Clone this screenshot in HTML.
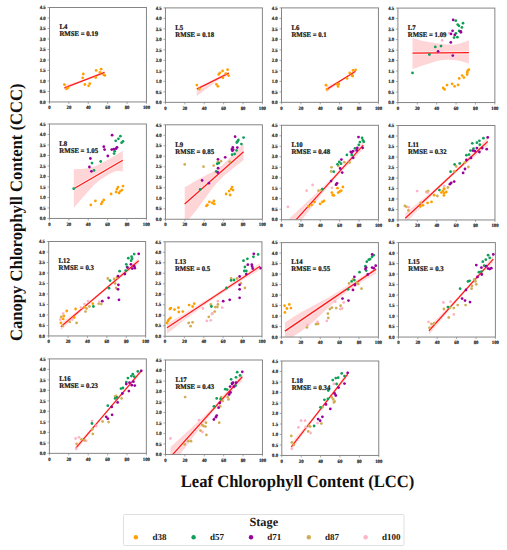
<!DOCTYPE html>
<html><head><meta charset="utf-8"><style>
html,body{margin:0;padding:0;background:#fff;}
svg{display:block;}
text{font-family:"Liberation Serif",serif;font-weight:bold;fill:#1a1a1a;text-rendering:geometricPrecision;}
.yl{font-size:5.0px;text-anchor:end;fill:#1a1a1a;stroke:#1a1a1a;stroke-width:0.18px;}
.xl{font-size:5.0px;text-anchor:middle;fill:#1a1a1a;stroke:#1a1a1a;stroke-width:0.18px;}
.tt{font-size:7.1px;fill:#111;stroke:#111;stroke-width:0.2px;}
.lt{font-size:12.3px;text-anchor:middle;}
.li{font-size:9.0px;}
.ax{fill:none;stroke:#858585;stroke-width:1;}
.tk{fill:none;stroke:#858585;stroke-width:0.7;}
.band{fill:#ffd6d8;}
.halo{stroke:#fff;stroke-opacity:0.45;stroke-width:3.2;}
.reg{stroke:#ff1a1a;stroke-width:1.3;}
.big{font-size:17.4px;fill:#111;}
</style></head><body>
<svg width="507" height="550" viewBox="0 0 507 550">
<defs><clipPath id="cL4"><rect x="49.5" y="7.5" width="96.95" height="94.45"/></clipPath><clipPath id="cL5"><rect x="165.45" y="7.9" width="96.95" height="94.45"/></clipPath><clipPath id="cL6"><rect x="281.5" y="7.9" width="96.95" height="94.45"/></clipPath><clipPath id="cL7"><rect x="397.9" y="8.1" width="96.95" height="94.45"/></clipPath><clipPath id="cL8"><rect x="49.45" y="124" width="96.95" height="94.45"/></clipPath><clipPath id="cL9"><rect x="165.45" y="124.8" width="96.95" height="94.45"/></clipPath><clipPath id="cL10"><rect x="281.5" y="125.3" width="96.95" height="94.45"/></clipPath><clipPath id="cL11"><rect x="398" y="125.5" width="96.95" height="94.45"/></clipPath><clipPath id="cL12"><rect x="48.7" y="241.5" width="96.95" height="94.45"/></clipPath><clipPath id="cL13"><rect x="165" y="241.8" width="96.95" height="94.45"/></clipPath><clipPath id="cL14"><rect x="281.45" y="242.6" width="96.95" height="94.45"/></clipPath><clipPath id="cL15"><rect x="398.45" y="242.6" width="96.95" height="94.45"/></clipPath><clipPath id="cL16"><rect x="49.4" y="358.9" width="96.95" height="94.45"/></clipPath><clipPath id="cL17"><rect x="165.5" y="360" width="96.95" height="94.45"/></clipPath><clipPath id="cL18"><rect x="281.8" y="361" width="96.95" height="94.45"/></clipPath></defs>
<g clip-path="url(#cL4)"><polygon class="band" points="64.4,85.2 65.24,84.97 66.08,84.73 66.91,84.5 67.75,84.27 68.59,84.03 69.43,83.8 70.26,83.56 71.1,83.33 71.94,83.09 72.78,82.85 73.61,82.61 74.45,82.37 75.29,82.12 76.12,81.88 76.96,81.63 77.8,81.38 78.64,81.12 79.47,80.86 80.31,80.6 81.15,80.33 81.99,80.05 82.83,79.77 83.66,79.48 84.5,79.18 85.34,78.88 86.17,78.56 87.01,78.23 87.85,77.89 88.69,77.55 89.52,77.2 90.36,76.84 91.2,76.47 92.04,76.1 92.88,75.73 93.71,75.34 94.55,74.96 95.39,74.57 96.22,74.18 97.06,73.79 97.9,73.4 98.74,73 99.57,72.61 100.41,72.21 101.25,71.81 102.09,71.41 102.92,71.01 103.76,70.6 104.6,70.2 104.6,74.6 103.76,74.84 102.92,75.08 102.09,75.32 101.25,75.56 100.41,75.8 99.57,76.04 98.74,76.29 97.9,76.53 97.06,76.78 96.22,77.03 95.39,77.28 94.55,77.54 93.71,77.8 92.88,78.06 92.04,78.32 91.2,78.59 90.36,78.87 89.52,79.15 88.69,79.44 87.85,79.74 87.01,80.04 86.17,80.36 85.34,80.68 84.5,81.02 83.66,81.36 82.83,81.71 81.99,82.07 81.15,82.44 80.31,82.81 79.47,83.19 78.64,83.57 77.8,83.96 76.96,84.35 76.12,84.74 75.29,85.14 74.45,85.53 73.61,85.93 72.78,86.34 71.94,86.74 71.1,87.14 70.26,87.55 69.43,87.95 68.59,88.36 67.75,88.77 66.91,89.17 66.08,89.58 65.24,89.99 64.4,90.4"/><line class="halo" x1="64.4" y1="87.8" x2="104.6" y2="72.4"/><line class="reg" x1="64.4" y1="87.8" x2="104.6" y2="72.4"/><circle cx="64.4" cy="84.6" r="1.38" fill="#FFA000"/><circle cx="66.5" cy="88.8" r="1.38" fill="#FFA000"/><circle cx="67.9" cy="87.8" r="1.38" fill="#FFA000"/><circle cx="83.3" cy="74" r="1.38" fill="#FFA000"/><circle cx="82.7" cy="77.8" r="1.38" fill="#FFA000"/><circle cx="84.9" cy="84.5" r="1.38" fill="#FFA000"/><circle cx="88.6" cy="85.8" r="1.38" fill="#FFA000"/><circle cx="89.8" cy="83.7" r="1.38" fill="#FFA000"/><circle cx="96.1" cy="70.4" r="1.38" fill="#FFA000"/><circle cx="95.7" cy="77.5" r="1.38" fill="#FFA000"/><circle cx="101.1" cy="69.2" r="1.38" fill="#FFA000"/><circle cx="99.9" cy="72.4" r="1.38" fill="#FFA000"/><circle cx="103.7" cy="74.8" r="1.38" fill="#FFA000"/><circle cx="104.9" cy="75.4" r="1.38" fill="#FFA000"/></g>
<rect class="ax" x="49.5" y="7.5" width="96.95" height="94.45"/>
<path class="tk" d="M47.5 101.95H49.5M47.5 91.46H49.5M47.5 80.96H49.5M47.5 70.47H49.5M47.5 59.97H49.5M47.5 49.48H49.5M47.5 38.98H49.5M47.5 28.49H49.5M47.5 17.99H49.5M47.5 7.5H49.5M49.5 101.95V103.95M68.89 101.95V103.95M88.28 101.95V103.95M107.67 101.95V103.95M127.06 101.95V103.95M146.45 101.95V103.95"/>
<text class="yl" transform="translate(45.7,103.65) scale(0.95,1)">0.0</text>
<text class="yl" transform="translate(45.7,93.16) scale(0.95,1)">0.5</text>
<text class="yl" transform="translate(45.7,82.66) scale(0.95,1)">1.0</text>
<text class="yl" transform="translate(45.7,72.17) scale(0.95,1)">1.5</text>
<text class="yl" transform="translate(45.7,61.67) scale(0.95,1)">2.0</text>
<text class="yl" transform="translate(45.7,51.18) scale(0.95,1)">2.5</text>
<text class="yl" transform="translate(45.7,40.68) scale(0.95,1)">3.0</text>
<text class="yl" transform="translate(45.7,30.19) scale(0.95,1)">3.5</text>
<text class="yl" transform="translate(45.7,19.69) scale(0.95,1)">4.0</text>
<text class="yl" transform="translate(45.7,9.2) scale(0.95,1)">4.5</text>
<text class="xl" transform="translate(49.5,109.15) scale(0.95,1)">0</text>
<text class="xl" transform="translate(68.89,109.15) scale(0.95,1)">20</text>
<text class="xl" transform="translate(88.28,109.15) scale(0.95,1)">40</text>
<text class="xl" transform="translate(107.67,109.15) scale(0.95,1)">60</text>
<text class="xl" transform="translate(127.06,109.15) scale(0.95,1)">80</text>
<text class="xl" transform="translate(146.45,109.15) scale(0.95,1)">100</text>
<text class="tt" transform="translate(59.4,29.25) scale(0.955,1)">L4</text>
<text class="tt" transform="translate(59.4,36.25) scale(0.955,1)">RMSE = 0.19</text>
<g clip-path="url(#cL5)"><polygon class="band" points="196.8,87 197.47,86.71 198.13,86.42 198.8,86.13 199.47,85.84 200.13,85.55 200.8,85.26 201.47,84.97 202.13,84.68 202.8,84.39 203.47,84.1 204.13,83.81 204.8,83.52 205.47,83.23 206.13,82.94 206.8,82.65 207.47,82.36 208.13,82.07 208.8,81.78 209.47,81.49 210.13,81.19 210.8,80.83 211.47,80.48 212.13,80.13 212.8,79.78 213.47,79.42 214.13,79.07 214.8,78.72 215.47,78.36 216.13,78.01 216.8,77.66 217.47,77.3 218.13,76.95 218.8,76.6 219.47,76.24 220.13,75.89 220.8,75.54 221.47,75.18 222.13,74.83 222.8,74.48 223.47,74.13 224.13,73.77 224.8,73.42 225.47,73.07 226.13,72.71 226.8,72.36 227.47,72.01 228.13,71.65 228.8,71.3 228.8,75.3 228.13,75.59 227.47,75.88 226.8,76.17 226.13,76.46 225.47,76.75 224.8,77.04 224.13,77.33 223.47,77.62 222.8,77.91 222.13,78.2 221.47,78.49 220.8,78.78 220.13,79.07 219.47,79.49 218.8,79.94 218.13,80.39 217.47,80.85 216.8,81.3 216.13,81.75 215.47,82.2 214.8,82.65 214.13,83.11 213.47,83.56 212.8,84.01 212.13,84.46 211.47,84.95 210.8,85.45 210.13,85.94 209.47,86.44 208.8,86.94 208.13,87.44 207.47,87.93 206.8,88.43 206.13,88.93 205.47,89.43 204.8,89.93 204.13,90.47 203.47,91.01 202.8,91.54 202.13,92.08 201.47,92.61 200.8,93.13 200.13,93.61 199.47,94.09 198.8,94.57 198.13,95.04 197.47,95.52 196.8,96"/><line class="halo" x1="196.8" y1="89.2" x2="228.8" y2="73.1"/><line class="reg" x1="196.8" y1="89.2" x2="228.8" y2="73.1"/><circle cx="196.8" cy="85.1" r="1.38" fill="#FFA000"/><circle cx="199.4" cy="89" r="1.38" fill="#FFA000"/><circle cx="216.4" cy="84.3" r="1.38" fill="#FFA000"/><circle cx="217.9" cy="86.3" r="1.38" fill="#FFA000"/><circle cx="218.7" cy="74.4" r="1.38" fill="#FFA000"/><circle cx="219.9" cy="72.8" r="1.38" fill="#FFA000"/><circle cx="222.6" cy="70.9" r="1.38" fill="#FFA000"/><circle cx="222.9" cy="77.8" r="1.38" fill="#FFA000"/><circle cx="225.8" cy="73.6" r="1.38" fill="#FFA000"/><circle cx="227.6" cy="69.7" r="1.38" fill="#FFA000"/><circle cx="228.6" cy="75.6" r="1.38" fill="#FFA000"/></g>
<rect class="ax" x="165.45" y="7.9" width="96.95" height="94.45"/>
<path class="tk" d="M163.45 102.35H165.45M163.45 91.86H165.45M163.45 81.36H165.45M163.45 70.87H165.45M163.45 60.37H165.45M163.45 49.88H165.45M163.45 39.38H165.45M163.45 28.89H165.45M163.45 18.39H165.45M163.45 7.9H165.45M165.45 102.35V104.35M184.84 102.35V104.35M204.23 102.35V104.35M223.62 102.35V104.35M243.01 102.35V104.35M262.4 102.35V104.35"/>
<text class="yl" transform="translate(161.65,104.05) scale(0.95,1)">0.0</text>
<text class="yl" transform="translate(161.65,93.56) scale(0.95,1)">0.5</text>
<text class="yl" transform="translate(161.65,83.06) scale(0.95,1)">1.0</text>
<text class="yl" transform="translate(161.65,72.57) scale(0.95,1)">1.5</text>
<text class="yl" transform="translate(161.65,62.07) scale(0.95,1)">2.0</text>
<text class="yl" transform="translate(161.65,51.58) scale(0.95,1)">2.5</text>
<text class="yl" transform="translate(161.65,41.08) scale(0.95,1)">3.0</text>
<text class="yl" transform="translate(161.65,30.59) scale(0.95,1)">3.5</text>
<text class="yl" transform="translate(161.65,20.09) scale(0.95,1)">4.0</text>
<text class="yl" transform="translate(161.65,9.6) scale(0.95,1)">4.5</text>
<text class="xl" transform="translate(165.45,109.55) scale(0.95,1)">0</text>
<text class="xl" transform="translate(184.84,109.55) scale(0.95,1)">20</text>
<text class="xl" transform="translate(204.23,109.55) scale(0.95,1)">40</text>
<text class="xl" transform="translate(223.62,109.55) scale(0.95,1)">60</text>
<text class="xl" transform="translate(243.01,109.55) scale(0.95,1)">80</text>
<text class="xl" transform="translate(262.4,109.55) scale(0.95,1)">100</text>
<text class="tt" transform="translate(175.35,29.65) scale(0.955,1)">L5</text>
<text class="tt" transform="translate(175.35,36.65) scale(0.955,1)">RMSE = 0.18</text>
<g clip-path="url(#cL6)"><polygon class="band" points="326.3,86.6 326.91,86.33 327.52,86.05 328.13,85.78 328.74,85.51 329.35,85.23 329.96,84.96 330.57,84.68 331.18,84.4 331.79,84.13 332.4,83.85 333.01,83.57 333.62,83.29 334.24,83.01 334.85,82.72 335.46,82.43 336.07,82.15 336.68,81.85 337.29,81.56 337.9,81.26 338.51,80.95 339.12,80.63 339.73,80.31 340.34,79.97 340.95,79.63 341.56,79.26 342.17,78.89 342.78,78.5 343.39,78.1 344,77.7 344.61,77.29 345.22,76.87 345.83,76.45 346.44,76.02 347.05,75.59 347.66,75.15 348.28,74.71 348.89,74.27 349.5,73.82 350.11,73.38 350.72,72.93 351.33,72.48 351.94,72.03 352.55,71.57 353.16,71.12 353.77,70.67 354.38,70.21 354.99,69.76 355.6,69.3 355.6,73.3 354.99,73.61 354.38,73.91 353.77,74.22 353.16,74.53 352.55,74.84 351.94,75.15 351.33,75.46 350.72,75.77 350.11,76.09 349.5,76.4 348.89,76.72 348.28,77.04 347.66,77.36 347.05,77.69 346.44,78.02 345.83,78.35 345.22,78.69 344.61,79.04 344,79.39 343.39,79.75 342.78,80.11 342.17,80.49 341.56,80.87 340.95,81.27 340.34,81.69 339.73,82.12 339.12,82.55 338.51,83 337.9,83.46 337.29,83.92 336.68,84.38 336.07,84.85 335.46,85.33 334.85,85.8 334.24,86.28 333.62,86.76 333.01,87.24 332.4,87.73 331.79,88.21 331.18,88.7 330.57,89.18 329.96,89.67 329.35,90.16 328.74,90.64 328.13,91.13 327.52,91.62 326.91,92.11 326.3,92.6"/><line class="halo" x1="326.3" y1="89.6" x2="355.6" y2="71.3"/><line class="reg" x1="326.3" y1="89.6" x2="355.6" y2="71.3"/><circle cx="326" cy="85.2" r="1.38" fill="#FFA000"/><circle cx="327" cy="89.3" r="1.38" fill="#FFA000"/><circle cx="337.3" cy="84.3" r="1.38" fill="#FFA000"/><circle cx="338.1" cy="86.4" r="1.38" fill="#FFA000"/><circle cx="338.8" cy="84" r="1.38" fill="#FFA000"/><circle cx="347.1" cy="78.4" r="1.38" fill="#FFA000"/><circle cx="349.7" cy="73" r="1.38" fill="#FFA000"/><circle cx="352.1" cy="75.4" r="1.38" fill="#FFA000"/><circle cx="353" cy="70.4" r="1.38" fill="#FFA000"/><circle cx="355.6" cy="69.8" r="1.38" fill="#FFA000"/><circle cx="352.7" cy="76.1" r="1.38" fill="#FFA000"/></g>
<rect class="ax" x="281.5" y="7.9" width="96.95" height="94.45"/>
<path class="tk" d="M279.5 102.35H281.5M279.5 91.86H281.5M279.5 81.36H281.5M279.5 70.87H281.5M279.5 60.37H281.5M279.5 49.88H281.5M279.5 39.38H281.5M279.5 28.89H281.5M279.5 18.39H281.5M279.5 7.9H281.5M281.5 102.35V104.35M300.89 102.35V104.35M320.28 102.35V104.35M339.67 102.35V104.35M359.06 102.35V104.35M378.45 102.35V104.35"/>
<text class="yl" transform="translate(277.7,104.05) scale(0.95,1)">0.0</text>
<text class="yl" transform="translate(277.7,93.56) scale(0.95,1)">0.5</text>
<text class="yl" transform="translate(277.7,83.06) scale(0.95,1)">1.0</text>
<text class="yl" transform="translate(277.7,72.57) scale(0.95,1)">1.5</text>
<text class="yl" transform="translate(277.7,62.07) scale(0.95,1)">2.0</text>
<text class="yl" transform="translate(277.7,51.58) scale(0.95,1)">2.5</text>
<text class="yl" transform="translate(277.7,41.08) scale(0.95,1)">3.0</text>
<text class="yl" transform="translate(277.7,30.59) scale(0.95,1)">3.5</text>
<text class="yl" transform="translate(277.7,20.09) scale(0.95,1)">4.0</text>
<text class="yl" transform="translate(277.7,9.6) scale(0.95,1)">4.5</text>
<text class="xl" transform="translate(281.5,109.55) scale(0.95,1)">0</text>
<text class="xl" transform="translate(300.89,109.55) scale(0.95,1)">20</text>
<text class="xl" transform="translate(320.28,109.55) scale(0.95,1)">40</text>
<text class="xl" transform="translate(339.67,109.55) scale(0.95,1)">60</text>
<text class="xl" transform="translate(359.06,109.55) scale(0.95,1)">80</text>
<text class="xl" transform="translate(378.45,109.55) scale(0.95,1)">100</text>
<text class="tt" transform="translate(291.4,29.65) scale(0.955,1)">L6</text>
<text class="tt" transform="translate(291.4,36.65) scale(0.955,1)">RMSE = 0.1</text>
<g clip-path="url(#cL7)"><polygon class="band" points="412.5,38.2 413.68,38.53 414.85,38.86 416.02,39.19 417.2,39.51 418.38,39.84 419.55,40.17 420.73,40.5 421.9,40.82 423.07,41.02 424.25,41.22 425.43,41.42 426.6,41.62 427.77,41.82 428.95,42.02 430.12,42.22 431.3,42.42 432.47,42.62 433.65,42.82 434.82,43.02 436,43.2 437.18,43.33 438.35,43.47 439.52,43.6 440.7,43.73 441.88,43.86 443.05,44 444.22,44.13 445.4,44.26 446.57,44.4 447.75,44.47 448.92,44.53 450.1,44.59 451.27,44.64 452.45,44.7 453.62,44.75 454.8,44.55 455.97,44.3 457.15,44.05 458.32,43.79 459.5,43.54 460.67,43.29 461.85,42.88 463.02,42.47 464.2,42.05 465.38,41.64 466.55,41.23 467.72,40.81 468.9,40.4 468.9,63.5 467.72,63.15 466.55,62.81 465.38,62.46 464.2,62.12 463.02,61.77 461.85,61.43 460.67,61.08 459.5,60.89 458.32,60.7 457.15,60.51 455.97,60.32 454.8,60.12 453.62,59.95 452.45,59.92 451.27,59.88 450.1,59.84 448.92,59.8 447.75,59.76 446.57,59.76 445.4,59.82 444.22,59.89 443.05,59.95 441.88,60.11 440.7,60.37 439.52,60.62 438.35,60.87 437.18,61.12 436,61.37 434.82,61.7 433.65,62.07 432.47,62.44 431.3,62.81 430.12,63.18 428.95,63.55 427.77,63.92 426.6,64.29 425.43,64.66 424.25,65.03 423.07,65.4 421.9,65.77 420.73,66.19 419.55,66.62 418.38,67.05 417.2,67.48 416.02,67.91 414.85,68.34 413.68,68.77 412.5,69.2"/><line class="halo" x1="412.5" y1="53.2" x2="468.9" y2="52.6"/><line class="reg" x1="412.5" y1="53.2" x2="468.9" y2="52.6"/><circle cx="453.2" cy="19.9" r="1.38" fill="#990099"/><circle cx="455.8" cy="20.7" r="1.38" fill="#0FA058"/><circle cx="463" cy="23.2" r="1.38" fill="#0FA058"/><circle cx="457.7" cy="24.6" r="1.38" fill="#0FA058"/><circle cx="458.9" cy="25.8" r="1.38" fill="#0FA058"/><circle cx="461.9" cy="27.4" r="1.38" fill="#0FA058"/><circle cx="452.6" cy="30.8" r="1.38" fill="#990099"/><circle cx="459.1" cy="30.9" r="1.38" fill="#0FA058"/><circle cx="460.7" cy="31.3" r="1.38" fill="#990099"/><circle cx="460.9" cy="32.3" r="1.38" fill="#990099"/><circle cx="455.9" cy="33.3" r="1.38" fill="#0FA058"/><circle cx="454.8" cy="35" r="1.38" fill="#990099"/><circle cx="449" cy="33.1" r="1.38" fill="#FFB3C6"/><circle cx="451" cy="33.9" r="1.38" fill="#990099"/><circle cx="454" cy="37.6" r="1.38" fill="#0FA058"/><circle cx="457.4" cy="37.2" r="1.38" fill="#0FA058"/><circle cx="442.1" cy="40.4" r="1.38" fill="#FFB3C6"/><circle cx="450.8" cy="42.4" r="1.38" fill="#990099"/><circle cx="441" cy="46.1" r="1.38" fill="#0FA058"/><circle cx="435.3" cy="46.9" r="1.38" fill="#0FA058"/><circle cx="438.1" cy="51.3" r="1.38" fill="#990099"/><circle cx="429.4" cy="54.5" r="1.38" fill="#0FA058"/><circle cx="452.8" cy="55.6" r="1.38" fill="#990099"/><circle cx="412.5" cy="72.9" r="1.38" fill="#0FA058"/><circle cx="443.2" cy="88" r="1.38" fill="#FFA000"/><circle cx="444.6" cy="89.4" r="1.38" fill="#FFA000"/><circle cx="447" cy="85.1" r="1.38" fill="#FFA000"/><circle cx="452.1" cy="83.9" r="1.38" fill="#FFA000"/><circle cx="454.6" cy="86.3" r="1.38" fill="#FFA000"/><circle cx="458.1" cy="84.9" r="1.38" fill="#FFA000"/><circle cx="459.2" cy="78.4" r="1.38" fill="#FFA000"/><circle cx="462.2" cy="75.6" r="1.38" fill="#FFA000"/><circle cx="463.9" cy="77.6" r="1.38" fill="#FFA000"/><circle cx="467.1" cy="74.5" r="1.38" fill="#FFA000"/><circle cx="467.3" cy="72.4" r="1.38" fill="#FFA000"/><circle cx="467.7" cy="70.7" r="1.38" fill="#FFA000"/><circle cx="468.9" cy="69.7" r="1.38" fill="#FFA000"/></g>
<rect class="ax" x="397.9" y="8.1" width="96.95" height="94.45"/>
<path class="tk" d="M395.9 102.55H397.9M395.9 92.06H397.9M395.9 81.56H397.9M395.9 71.07H397.9M395.9 60.57H397.9M395.9 50.08H397.9M395.9 39.58H397.9M395.9 29.09H397.9M395.9 18.59H397.9M395.9 8.1H397.9M397.9 102.55V104.55M417.29 102.55V104.55M436.68 102.55V104.55M456.07 102.55V104.55M475.46 102.55V104.55M494.85 102.55V104.55"/>
<text class="yl" transform="translate(394.1,104.25) scale(0.95,1)">0.0</text>
<text class="yl" transform="translate(394.1,93.76) scale(0.95,1)">0.5</text>
<text class="yl" transform="translate(394.1,83.26) scale(0.95,1)">1.0</text>
<text class="yl" transform="translate(394.1,72.77) scale(0.95,1)">1.5</text>
<text class="yl" transform="translate(394.1,62.27) scale(0.95,1)">2.0</text>
<text class="yl" transform="translate(394.1,51.78) scale(0.95,1)">2.5</text>
<text class="yl" transform="translate(394.1,41.28) scale(0.95,1)">3.0</text>
<text class="yl" transform="translate(394.1,30.79) scale(0.95,1)">3.5</text>
<text class="yl" transform="translate(394.1,20.29) scale(0.95,1)">4.0</text>
<text class="yl" transform="translate(394.1,9.8) scale(0.95,1)">4.5</text>
<text class="xl" transform="translate(397.9,109.75) scale(0.95,1)">0</text>
<text class="xl" transform="translate(417.29,109.75) scale(0.95,1)">20</text>
<text class="xl" transform="translate(436.68,109.75) scale(0.95,1)">40</text>
<text class="xl" transform="translate(456.07,109.75) scale(0.95,1)">60</text>
<text class="xl" transform="translate(475.46,109.75) scale(0.95,1)">80</text>
<text class="xl" transform="translate(494.85,109.75) scale(0.95,1)">100</text>
<text class="tt" transform="translate(407.8,29.85) scale(0.955,1)">L7</text>
<text class="tt" transform="translate(407.8,36.85) scale(0.955,1)">RMSE = 1.09</text>
<g clip-path="url(#cL8)"><polygon class="band" points="73.8,169.2 74.82,169.18 75.84,169.15 76.86,169.13 77.88,169.1 78.9,169.08 79.92,169.05 80.95,169.03 81.97,168.91 82.99,168.78 84.01,168.66 85.03,168.53 86.05,168.41 87.07,168.28 88.09,168.14 89.11,167.86 90.13,167.57 91.15,167.29 92.17,167 93.2,166.72 94.22,166.43 95.24,166.1 96.26,165.64 97.28,165.18 98.3,164.71 99.32,164.23 100.34,163.71 101.36,163.18 102.38,162.66 103.4,162.14 104.42,161.61 105.45,161.09 106.47,160.56 107.49,160.04 108.51,159.47 109.53,158.85 110.55,158.23 111.57,157.61 112.59,156.99 113.61,156.36 114.63,155.74 115.65,155.12 116.67,154.51 117.7,153.89 118.72,153.27 119.74,152.65 120.76,152.04 121.78,151.42 122.8,150.8 122.8,171.4 121.78,171.29 120.76,171.19 119.74,171.08 118.72,171.02 117.7,171.07 116.67,171.12 115.65,171.18 114.63,171.56 113.61,172.04 112.59,172.53 111.57,173.02 110.55,173.51 109.53,174 108.51,174.48 107.49,175.14 106.47,175.8 105.45,176.46 104.42,177.12 103.4,177.77 102.38,178.43 101.36,179.09 100.34,179.75 99.32,180.41 98.3,181.3 97.28,182.2 96.26,183.1 95.24,184 94.22,185.02 93.2,186.08 92.17,187.13 91.15,188.19 90.13,189.29 89.11,190.44 88.09,191.6 87.07,192.75 86.05,193.91 85.03,195.06 84.01,196.21 82.99,197.37 81.97,198.52 80.95,199.68 79.92,200.84 78.9,202 77.88,203.16 76.86,204.32 75.84,205.48 74.82,206.64 73.8,207.8"/><line class="halo" x1="73.8" y1="188.7" x2="122.8" y2="160.3"/><line class="reg" x1="73.8" y1="188.7" x2="122.8" y2="160.3"/><circle cx="73.7" cy="188.7" r="1.38" fill="#0FA058"/><circle cx="94" cy="170.4" r="1.38" fill="#0FA058"/><circle cx="92" cy="163.1" r="1.38" fill="#0FA058"/><circle cx="100.7" cy="161.5" r="1.38" fill="#0FA058"/><circle cx="114.1" cy="153.6" r="1.38" fill="#0FA058"/><circle cx="114.7" cy="151.2" r="1.38" fill="#0FA058"/><circle cx="115.7" cy="140.8" r="1.38" fill="#0FA058"/><circle cx="118.4" cy="138.8" r="1.38" fill="#0FA058"/><circle cx="120.4" cy="136.2" r="1.38" fill="#0FA058"/><circle cx="121.6" cy="142.7" r="1.38" fill="#0FA058"/><circle cx="123" cy="141.4" r="1.38" fill="#0FA058"/><circle cx="90.4" cy="158.5" r="1.38" fill="#990099"/><circle cx="89.4" cy="167" r="1.38" fill="#990099"/><circle cx="91.4" cy="171.3" r="1.38" fill="#990099"/><circle cx="103.8" cy="146.7" r="1.38" fill="#990099"/><circle cx="104.6" cy="149.6" r="1.38" fill="#990099"/><circle cx="107.8" cy="156" r="1.38" fill="#990099"/><circle cx="112.1" cy="135.2" r="1.38" fill="#990099"/><circle cx="111.7" cy="149.6" r="1.38" fill="#990099"/><circle cx="113.7" cy="149.2" r="1.38" fill="#990099"/><circle cx="117" cy="147.3" r="1.38" fill="#990099"/><circle cx="116.1" cy="148.7" r="1.38" fill="#990099"/><circle cx="90.8" cy="204.9" r="1.38" fill="#FFA000"/><circle cx="95.4" cy="200.9" r="1.38" fill="#FFA000"/><circle cx="101.3" cy="203.9" r="1.38" fill="#FFA000"/><circle cx="102.3" cy="201.9" r="1.38" fill="#FFA000"/><circle cx="103.8" cy="199.9" r="1.38" fill="#FFA000"/><circle cx="111.1" cy="194" r="1.38" fill="#FFA000"/><circle cx="116.1" cy="192" r="1.38" fill="#FFA000"/><circle cx="117" cy="189.1" r="1.38" fill="#FFA000"/><circle cx="118" cy="187.1" r="1.38" fill="#FFA000"/><circle cx="119" cy="193" r="1.38" fill="#FFA000"/><circle cx="122" cy="190.1" r="1.38" fill="#FFA000"/><circle cx="123" cy="186.1" r="1.38" fill="#FFA000"/><circle cx="120.4" cy="191.1" r="1.38" fill="#FFA000"/></g>
<rect class="ax" x="49.45" y="124" width="96.95" height="94.45"/>
<path class="tk" d="M47.45 218.45H49.45M47.45 207.96H49.45M47.45 197.46H49.45M47.45 186.97H49.45M47.45 176.47H49.45M47.45 165.98H49.45M47.45 155.48H49.45M47.45 144.99H49.45M47.45 134.49H49.45M47.45 124H49.45M49.45 218.45V220.45M68.84 218.45V220.45M88.23 218.45V220.45M107.62 218.45V220.45M127.01 218.45V220.45M146.4 218.45V220.45"/>
<text class="yl" transform="translate(45.65,220.15) scale(0.95,1)">0.0</text>
<text class="yl" transform="translate(45.65,209.66) scale(0.95,1)">0.5</text>
<text class="yl" transform="translate(45.65,199.16) scale(0.95,1)">1.0</text>
<text class="yl" transform="translate(45.65,188.67) scale(0.95,1)">1.5</text>
<text class="yl" transform="translate(45.65,178.17) scale(0.95,1)">2.0</text>
<text class="yl" transform="translate(45.65,167.68) scale(0.95,1)">2.5</text>
<text class="yl" transform="translate(45.65,157.18) scale(0.95,1)">3.0</text>
<text class="yl" transform="translate(45.65,146.69) scale(0.95,1)">3.5</text>
<text class="yl" transform="translate(45.65,136.19) scale(0.95,1)">4.0</text>
<text class="yl" transform="translate(45.65,125.7) scale(0.95,1)">4.5</text>
<text class="xl" transform="translate(49.45,225.65) scale(0.95,1)">0</text>
<text class="xl" transform="translate(68.84,225.65) scale(0.95,1)">20</text>
<text class="xl" transform="translate(88.23,225.65) scale(0.95,1)">40</text>
<text class="xl" transform="translate(107.62,225.65) scale(0.95,1)">60</text>
<text class="xl" transform="translate(127.01,225.65) scale(0.95,1)">80</text>
<text class="xl" transform="translate(146.4,225.65) scale(0.95,1)">100</text>
<text class="tt" transform="translate(59.35,145.75) scale(0.955,1)">L8</text>
<text class="tt" transform="translate(59.35,152.75) scale(0.955,1)">RMSE = 1.05</text>
<g clip-path="url(#cL9)"><polygon class="band" points="184.7,187.3 185.93,186.59 187.15,185.88 188.38,185.17 189.61,184.45 190.84,183.74 192.06,183.03 193.29,182.31 194.52,181.59 195.74,180.87 196.97,180.15 198.2,179.43 199.42,178.77 200.65,178.11 201.88,177.46 203.11,176.81 204.33,176.16 205.56,175.51 206.79,174.86 208.01,174.26 209.24,173.66 210.47,173.06 211.7,172.46 212.92,171.74 214.15,170.98 215.38,170.22 216.6,169.46 217.83,168.7 219.06,167.76 220.29,166.7 221.51,165.65 222.74,164.59 223.97,163.54 225.19,162.45 226.42,161.23 227.65,160.01 228.88,158.79 230.1,157.57 231.33,156.35 232.56,155.07 233.78,153.79 235.01,152.5 236.24,151.22 237.46,149.93 238.69,148.64 239.92,147.36 241.15,146.07 242.37,144.79 243.6,143.5 243.6,160.1 242.37,161.05 241.15,162 239.92,162.95 238.69,163.89 237.46,164.84 236.24,165.79 235.01,166.74 233.78,167.69 232.56,168.64 231.33,169.6 230.1,170.62 228.88,171.63 227.65,172.65 226.42,173.67 225.19,174.69 223.97,175.86 222.74,177.05 221.51,178.25 220.29,179.45 219.06,180.64 217.83,181.88 216.6,183.37 215.38,184.85 214.15,186.34 212.92,187.83 211.7,189.33 210.47,190.98 209.24,192.63 208.01,194.27 206.79,195.92 205.56,197.63 204.33,199.36 203.11,201.08 201.88,202.81 200.65,204.54 199.42,206.27 198.2,207.96 196.97,209.46 195.74,210.96 194.52,212.46 193.29,213.96 192.06,215.46 190.84,216.91 189.61,218.35 188.38,219.79 187.15,221.23 185.93,222.66 184.7,224.1"/><line class="halo" x1="184.7" y1="204.1" x2="243.6" y2="151.7"/><line class="reg" x1="184.7" y1="204.1" x2="243.6" y2="151.7"/><circle cx="184.7" cy="164.4" r="1.38" fill="#D1AE55"/><circle cx="203.5" cy="166.7" r="1.38" fill="#D1AE55"/><circle cx="213.7" cy="165.6" r="1.38" fill="#D1AE55"/><circle cx="217.8" cy="162" r="1.38" fill="#D1AE55"/><circle cx="221" cy="161.2" r="1.38" fill="#D1AE55"/><circle cx="229.7" cy="162" r="1.38" fill="#D1AE55"/><circle cx="235.1" cy="136.7" r="1.38" fill="#990099"/><circle cx="243.6" cy="137.6" r="1.38" fill="#0FA058"/><circle cx="238.4" cy="140" r="1.38" fill="#0FA058"/><circle cx="237.5" cy="141.4" r="1.38" fill="#0FA058"/><circle cx="236.8" cy="142.5" r="1.38" fill="#0FA058"/><circle cx="241.4" cy="144.1" r="1.38" fill="#0FA058"/><circle cx="232.8" cy="147.4" r="1.38" fill="#990099"/><circle cx="237.3" cy="147.6" r="1.38" fill="#990099"/><circle cx="231.9" cy="149.5" r="1.38" fill="#990099"/><circle cx="232.4" cy="150.8" r="1.38" fill="#990099"/><circle cx="233.2" cy="149.7" r="1.38" fill="#990099"/><circle cx="236.5" cy="150.4" r="1.38" fill="#0FA058"/><circle cx="234.6" cy="153.9" r="1.38" fill="#0FA058"/><circle cx="232.1" cy="154.7" r="1.38" fill="#0FA058"/><circle cx="225.2" cy="157.3" r="1.38" fill="#990099"/><circle cx="218" cy="159.3" r="1.38" fill="#990099"/><circle cx="217.2" cy="163.8" r="1.38" fill="#0FA058"/><circle cx="218.9" cy="163.1" r="1.38" fill="#0FA058"/><circle cx="218.1" cy="168.2" r="1.38" fill="#990099"/><circle cx="216.2" cy="171.4" r="1.38" fill="#0FA058"/><circle cx="217.8" cy="172.5" r="1.38" fill="#990099"/><circle cx="202.1" cy="180.4" r="1.38" fill="#990099"/><circle cx="208.9" cy="183.2" r="1.38" fill="#990099"/><circle cx="200.1" cy="189.5" r="1.38" fill="#0FA058"/><circle cx="206.4" cy="205.9" r="1.38" fill="#FFA000"/><circle cx="207.4" cy="204.9" r="1.38" fill="#FFA000"/><circle cx="209.4" cy="201.9" r="1.38" fill="#FFA000"/><circle cx="212.3" cy="202.9" r="1.38" fill="#FFA000"/><circle cx="213.9" cy="200.9" r="1.38" fill="#FFA000"/><circle cx="214.3" cy="203.9" r="1.38" fill="#FFA000"/><circle cx="226.1" cy="194" r="1.38" fill="#FFA000"/><circle cx="229.1" cy="191.1" r="1.38" fill="#FFA000"/><circle cx="230.1" cy="195" r="1.38" fill="#FFA000"/><circle cx="231.1" cy="189.1" r="1.38" fill="#FFA000"/><circle cx="232.1" cy="187.1" r="1.38" fill="#FFA000"/><circle cx="233" cy="190.1" r="1.38" fill="#FFA000"/></g>
<rect class="ax" x="165.45" y="124.8" width="96.95" height="94.45"/>
<path class="tk" d="M163.45 219.25H165.45M163.45 208.76H165.45M163.45 198.26H165.45M163.45 187.77H165.45M163.45 177.27H165.45M163.45 166.78H165.45M163.45 156.28H165.45M163.45 145.79H165.45M163.45 135.29H165.45M163.45 124.8H165.45M165.45 219.25V221.25M184.84 219.25V221.25M204.23 219.25V221.25M223.62 219.25V221.25M243.01 219.25V221.25M262.4 219.25V221.25"/>
<text class="yl" transform="translate(161.65,220.95) scale(0.95,1)">0.0</text>
<text class="yl" transform="translate(161.65,210.46) scale(0.95,1)">0.5</text>
<text class="yl" transform="translate(161.65,199.96) scale(0.95,1)">1.0</text>
<text class="yl" transform="translate(161.65,189.47) scale(0.95,1)">1.5</text>
<text class="yl" transform="translate(161.65,178.97) scale(0.95,1)">2.0</text>
<text class="yl" transform="translate(161.65,168.48) scale(0.95,1)">2.5</text>
<text class="yl" transform="translate(161.65,157.98) scale(0.95,1)">3.0</text>
<text class="yl" transform="translate(161.65,147.49) scale(0.95,1)">3.5</text>
<text class="yl" transform="translate(161.65,136.99) scale(0.95,1)">4.0</text>
<text class="yl" transform="translate(161.65,126.5) scale(0.95,1)">4.5</text>
<text class="xl" transform="translate(165.45,226.45) scale(0.95,1)">0</text>
<text class="xl" transform="translate(184.84,226.45) scale(0.95,1)">20</text>
<text class="xl" transform="translate(204.23,226.45) scale(0.95,1)">40</text>
<text class="xl" transform="translate(223.62,226.45) scale(0.95,1)">60</text>
<text class="xl" transform="translate(243.01,226.45) scale(0.95,1)">80</text>
<text class="xl" transform="translate(262.4,226.45) scale(0.95,1)">100</text>
<text class="tt" transform="translate(175.35,146.55) scale(0.955,1)">L9</text>
<text class="tt" transform="translate(175.35,153.55) scale(0.955,1)">RMSE = 0.85</text>
<g clip-path="url(#cL10)"><polygon class="band" points="288,219.7 289.57,218.24 291.14,216.78 292.71,215.32 294.27,213.86 295.84,212.4 297.41,210.93 298.98,209.47 300.55,208 302.12,206.54 303.69,205.07 305.26,203.6 306.82,202.12 308.39,200.65 309.96,199.17 311.53,197.69 313.1,196.21 314.67,194.72 316.24,193.23 317.81,191.73 319.38,190.23 320.94,188.71 322.51,187.19 324.08,185.65 325.65,184.1 327.22,182.53 328.79,180.93 330.36,179.31 331.93,177.66 333.49,175.97 335.06,174.25 336.63,172.5 338.2,170.73 339.77,168.95 341.34,167.16 342.91,165.35 344.48,163.53 346.04,161.7 347.61,159.86 349.18,158.01 350.75,156.15 352.32,154.29 353.89,152.42 355.46,150.54 357.03,148.66 358.59,146.78 360.16,144.89 361.73,142.99 363.3,141.1 363.3,149.1 361.73,150.69 360.16,152.28 358.59,153.87 357.03,155.47 355.46,157.07 353.89,158.68 352.32,160.29 350.75,161.91 349.18,163.54 347.61,165.17 346.04,166.82 344.48,168.47 342.91,170.13 341.34,171.81 339.77,173.5 338.2,175.2 336.63,176.92 335.06,178.65 333.49,180.41 331.93,182.21 330.36,184.04 328.79,185.9 327.22,187.79 325.65,189.7 324.08,191.63 322.51,193.58 320.94,195.54 319.38,197.51 317.81,199.49 316.24,201.47 314.67,203.46 313.1,205.46 311.53,207.46 309.96,209.46 308.39,211.47 306.82,213.48 305.26,215.49 303.69,217.5 302.12,219.51 300.55,221.53 298.98,223.55 297.41,225.57 295.84,227.59 294.27,229.61 292.71,231.63 291.14,233.65 289.57,235.68 288,237.7"/><line class="halo" x1="288" y1="228.7" x2="363.3" y2="145.1"/><line class="reg" x1="288" y1="228.7" x2="363.3" y2="145.1"/><circle cx="287.9" cy="206.8" r="1.38" fill="#FFB3C6"/><circle cx="306.6" cy="190.7" r="1.38" fill="#FFB3C6"/><circle cx="312.6" cy="185" r="1.38" fill="#FFB3C6"/><circle cx="331.9" cy="187.8" r="1.38" fill="#FFB3C6"/><circle cx="308.6" cy="206.4" r="1.38" fill="#FFA000"/><circle cx="311.6" cy="204.9" r="1.38" fill="#FFA000"/><circle cx="314.5" cy="201.9" r="1.38" fill="#FFA000"/><circle cx="320.1" cy="203.9" r="1.38" fill="#FFA000"/><circle cx="322.4" cy="201.9" r="1.38" fill="#FFA000"/><circle cx="324" cy="200.9" r="1.38" fill="#FFA000"/><circle cx="331.9" cy="192.6" r="1.38" fill="#FFA000"/><circle cx="332.7" cy="195" r="1.38" fill="#FFA000"/><circle cx="333.9" cy="195.4" r="1.38" fill="#FFA000"/><circle cx="337.5" cy="188.2" r="1.38" fill="#FFA000"/><circle cx="338.2" cy="192.6" r="1.38" fill="#FFA000"/><circle cx="339.8" cy="191.5" r="1.38" fill="#FFA000"/><circle cx="341.2" cy="190.7" r="1.38" fill="#FFA000"/><circle cx="342.9" cy="187" r="1.38" fill="#FFA000"/><circle cx="318.5" cy="190.7" r="1.38" fill="#D1AE55"/><circle cx="321.4" cy="190.1" r="1.38" fill="#D1AE55"/><circle cx="331.5" cy="167.3" r="1.38" fill="#D1AE55"/><circle cx="331.1" cy="171.4" r="1.38" fill="#D1AE55"/><circle cx="338.4" cy="166.1" r="1.38" fill="#D1AE55"/><circle cx="344.3" cy="162.2" r="1.38" fill="#D1AE55"/><circle cx="349.6" cy="162.5" r="1.38" fill="#D1AE55"/><circle cx="322.4" cy="189.1" r="1.38" fill="#0FA058"/><circle cx="333.7" cy="171.7" r="1.38" fill="#0FA058"/><circle cx="337.5" cy="164.3" r="1.38" fill="#0FA058"/><circle cx="341" cy="163.7" r="1.38" fill="#0FA058"/><circle cx="339.3" cy="162" r="1.38" fill="#0FA058"/><circle cx="346.9" cy="154.9" r="1.38" fill="#0FA058"/><circle cx="351.7" cy="154.9" r="1.38" fill="#0FA058"/><circle cx="355" cy="148.3" r="1.38" fill="#0FA058"/><circle cx="358.8" cy="144.8" r="1.38" fill="#0FA058"/><circle cx="359.9" cy="142.1" r="1.38" fill="#0FA058"/><circle cx="363.8" cy="141.8" r="1.38" fill="#0FA058"/><circle cx="363" cy="140.4" r="1.38" fill="#0FA058"/><circle cx="362.1" cy="138" r="1.38" fill="#0FA058"/><circle cx="331.1" cy="181.1" r="1.38" fill="#990099"/><circle cx="337" cy="183.3" r="1.38" fill="#990099"/><circle cx="336" cy="184.7" r="1.38" fill="#990099"/><circle cx="340.2" cy="168.5" r="1.38" fill="#990099"/><circle cx="342.2" cy="172.6" r="1.38" fill="#990099"/><circle cx="341.4" cy="159.6" r="1.38" fill="#990099"/><circle cx="353.2" cy="157.8" r="1.38" fill="#990099"/><circle cx="350.8" cy="151.9" r="1.38" fill="#990099"/><circle cx="351.7" cy="152.5" r="1.38" fill="#990099"/><circle cx="353.2" cy="151.1" r="1.38" fill="#990099"/><circle cx="356.7" cy="150.4" r="1.38" fill="#990099"/><circle cx="357.3" cy="148" r="1.38" fill="#990099"/><circle cx="362.7" cy="147.8" r="1.38" fill="#990099"/><circle cx="358.5" cy="137.1" r="1.38" fill="#990099"/></g>
<rect class="ax" x="281.5" y="125.3" width="96.95" height="94.45"/>
<path class="tk" d="M279.5 219.75H281.5M279.5 209.26H281.5M279.5 198.76H281.5M279.5 188.27H281.5M279.5 177.77H281.5M279.5 167.28H281.5M279.5 156.78H281.5M279.5 146.29H281.5M279.5 135.79H281.5M279.5 125.3H281.5M281.5 219.75V221.75M300.89 219.75V221.75M320.28 219.75V221.75M339.67 219.75V221.75M359.06 219.75V221.75M378.45 219.75V221.75"/>
<text class="yl" transform="translate(277.7,221.45) scale(0.95,1)">0.0</text>
<text class="yl" transform="translate(277.7,210.96) scale(0.95,1)">0.5</text>
<text class="yl" transform="translate(277.7,200.46) scale(0.95,1)">1.0</text>
<text class="yl" transform="translate(277.7,189.97) scale(0.95,1)">1.5</text>
<text class="yl" transform="translate(277.7,179.47) scale(0.95,1)">2.0</text>
<text class="yl" transform="translate(277.7,168.98) scale(0.95,1)">2.5</text>
<text class="yl" transform="translate(277.7,158.48) scale(0.95,1)">3.0</text>
<text class="yl" transform="translate(277.7,147.99) scale(0.95,1)">3.5</text>
<text class="yl" transform="translate(277.7,137.49) scale(0.95,1)">4.0</text>
<text class="yl" transform="translate(277.7,127) scale(0.95,1)">4.5</text>
<text class="xl" transform="translate(281.5,226.95) scale(0.95,1)">0</text>
<text class="xl" transform="translate(300.89,226.95) scale(0.95,1)">20</text>
<text class="xl" transform="translate(320.28,226.95) scale(0.95,1)">40</text>
<text class="xl" transform="translate(339.67,226.95) scale(0.95,1)">60</text>
<text class="xl" transform="translate(359.06,226.95) scale(0.95,1)">80</text>
<text class="xl" transform="translate(378.45,226.95) scale(0.95,1)">100</text>
<text class="tt" transform="translate(291.4,147.05) scale(0.955,1)">L10</text>
<text class="tt" transform="translate(291.4,154.05) scale(0.955,1)">RMSE = 0.48</text>
<g clip-path="url(#cL11)"><polygon class="band" points="405.3,213.3 407.02,211.89 408.73,210.49 410.45,209.08 412.17,207.67 413.88,206.26 415.6,204.85 417.32,203.44 419.03,202.02 420.75,200.6 422.47,199.18 424.18,197.76 425.9,196.33 427.62,194.9 429.33,193.46 431.05,192.02 432.77,190.57 434.48,189.1 436.2,187.63 437.92,186.14 439.63,184.63 441.35,183.09 443.07,181.54 444.78,179.95 446.5,178.34 448.22,176.72 449.93,175.09 451.65,173.44 453.37,171.77 455.08,170.1 456.8,168.42 458.52,166.73 460.23,165.03 461.95,163.33 463.67,161.62 465.38,159.91 467.1,158.19 468.82,156.47 470.53,154.74 472.25,153.02 473.97,151.29 475.68,149.56 477.4,147.82 479.12,146.09 480.83,144.35 482.55,142.62 484.27,140.88 485.98,139.14 487.7,137.4 487.7,145.4 485.98,146.86 484.27,148.33 482.55,149.8 480.83,151.26 479.12,152.73 477.4,154.2 475.68,155.67 473.97,157.15 472.25,158.62 470.53,160.1 468.82,161.58 467.1,163.06 465.38,164.55 463.67,166.04 461.95,167.53 460.23,169.03 458.52,170.54 456.8,172.05 455.08,173.58 453.37,175.11 451.65,176.65 449.93,178.21 448.22,179.77 446.5,181.36 444.78,182.95 443.07,184.57 441.35,186.22 439.63,187.89 437.92,189.59 436.2,191.3 434.48,193.03 432.77,194.77 431.05,196.52 429.33,198.28 427.62,200.04 425.9,201.82 424.18,203.59 422.47,205.37 420.75,207.16 419.03,208.94 417.32,210.73 415.6,212.53 413.88,214.32 412.17,216.11 410.45,217.91 408.73,219.7 407.02,221.5 405.3,223.3"/><line class="halo" x1="405.3" y1="218.3" x2="487.7" y2="141.4"/><line class="reg" x1="405.3" y1="218.3" x2="487.7" y2="141.4"/><circle cx="404.9" cy="205.9" r="1.38" fill="#D1AE55"/><circle cx="406.5" cy="206.8" r="1.38" fill="#D1AE55"/><circle cx="408.4" cy="210.4" r="1.38" fill="#D1AE55"/><circle cx="420.7" cy="202.9" r="1.38" fill="#D1AE55"/><circle cx="426.6" cy="192" r="1.38" fill="#D1AE55"/><circle cx="428.2" cy="191.1" r="1.38" fill="#D1AE55"/><circle cx="434.2" cy="195.2" r="1.38" fill="#FFA000"/><circle cx="437.4" cy="196" r="1.38" fill="#D1AE55"/><circle cx="444.3" cy="189.1" r="1.38" fill="#D1AE55"/><circle cx="447.9" cy="187.5" r="1.38" fill="#D1AE55"/><circle cx="454.2" cy="171.3" r="1.38" fill="#D1AE55"/><circle cx="456.2" cy="166.4" r="1.38" fill="#D1AE55"/><circle cx="465" cy="162.5" r="1.38" fill="#D1AE55"/><circle cx="468.4" cy="167" r="1.38" fill="#D1AE55"/><circle cx="417.1" cy="191.1" r="1.38" fill="#FFB3C6"/><circle cx="427.6" cy="192.6" r="1.38" fill="#FFB3C6"/><circle cx="444.3" cy="186.1" r="1.38" fill="#FFB3C6"/><circle cx="408.7" cy="207.3" r="1.38" fill="#FFB3C6"/><circle cx="420.3" cy="206.4" r="1.38" fill="#FFA000"/><circle cx="423" cy="205.3" r="1.38" fill="#FFA000"/><circle cx="427.6" cy="202.9" r="1.38" fill="#FFA000"/><circle cx="431.5" cy="201.9" r="1.38" fill="#FFA000"/><circle cx="441.4" cy="192.6" r="1.38" fill="#FFA000"/><circle cx="442.8" cy="191.1" r="1.38" fill="#FFA000"/><circle cx="443.9" cy="188.7" r="1.38" fill="#FFA000"/><circle cx="444.3" cy="193" r="1.38" fill="#FFA000"/><circle cx="443.9" cy="195.4" r="1.38" fill="#FFA000"/><circle cx="446.3" cy="192" r="1.38" fill="#FFA000"/><circle cx="439.4" cy="190.1" r="1.38" fill="#0FA058"/><circle cx="450.6" cy="171.7" r="1.38" fill="#0FA058"/><circle cx="454.6" cy="164.4" r="1.38" fill="#0FA058"/><circle cx="459.7" cy="163.4" r="1.38" fill="#0FA058"/><circle cx="466.4" cy="155.2" r="1.38" fill="#0FA058"/><circle cx="469" cy="154.6" r="1.38" fill="#0FA058"/><circle cx="470.4" cy="150.6" r="1.38" fill="#0FA058"/><circle cx="472.3" cy="143.3" r="1.38" fill="#0FA058"/><circle cx="473.5" cy="148.7" r="1.38" fill="#0FA058"/><circle cx="476.9" cy="142.7" r="1.38" fill="#0FA058"/><circle cx="479.4" cy="140.8" r="1.38" fill="#0FA058"/><circle cx="479.8" cy="144.7" r="1.38" fill="#0FA058"/><circle cx="483.4" cy="138.2" r="1.38" fill="#0FA058"/><circle cx="449.9" cy="184.2" r="1.38" fill="#990099"/><circle cx="451.2" cy="182.8" r="1.38" fill="#990099"/><circle cx="454.2" cy="181.6" r="1.38" fill="#990099"/><circle cx="463.1" cy="172.9" r="1.38" fill="#990099"/><circle cx="465" cy="169" r="1.38" fill="#990099"/><circle cx="466.4" cy="159.9" r="1.38" fill="#990099"/><circle cx="471" cy="157.9" r="1.38" fill="#990099"/><circle cx="472.9" cy="150.6" r="1.38" fill="#990099"/><circle cx="474.9" cy="151.2" r="1.38" fill="#990099"/><circle cx="476.9" cy="148.1" r="1.38" fill="#990099"/><circle cx="479.4" cy="152" r="1.38" fill="#990099"/><circle cx="482.2" cy="148.1" r="1.38" fill="#990099"/><circle cx="486.7" cy="149.2" r="1.38" fill="#990099"/><circle cx="487.7" cy="137.4" r="1.38" fill="#990099"/></g>
<rect class="ax" x="398" y="125.5" width="96.95" height="94.45"/>
<path class="tk" d="M396 219.95H398M396 209.46H398M396 198.96H398M396 188.47H398M396 177.97H398M396 167.48H398M396 156.98H398M396 146.49H398M396 135.99H398M396 125.5H398M398 219.95V221.95M417.39 219.95V221.95M436.78 219.95V221.95M456.17 219.95V221.95M475.56 219.95V221.95M494.95 219.95V221.95"/>
<text class="yl" transform="translate(394.2,221.65) scale(0.95,1)">0.0</text>
<text class="yl" transform="translate(394.2,211.16) scale(0.95,1)">0.5</text>
<text class="yl" transform="translate(394.2,200.66) scale(0.95,1)">1.0</text>
<text class="yl" transform="translate(394.2,190.17) scale(0.95,1)">1.5</text>
<text class="yl" transform="translate(394.2,179.67) scale(0.95,1)">2.0</text>
<text class="yl" transform="translate(394.2,169.18) scale(0.95,1)">2.5</text>
<text class="yl" transform="translate(394.2,158.68) scale(0.95,1)">3.0</text>
<text class="yl" transform="translate(394.2,148.19) scale(0.95,1)">3.5</text>
<text class="yl" transform="translate(394.2,137.69) scale(0.95,1)">4.0</text>
<text class="yl" transform="translate(394.2,127.2) scale(0.95,1)">4.5</text>
<text class="xl" transform="translate(398,227.15) scale(0.95,1)">0</text>
<text class="xl" transform="translate(417.39,227.15) scale(0.95,1)">20</text>
<text class="xl" transform="translate(436.78,227.15) scale(0.95,1)">40</text>
<text class="xl" transform="translate(456.17,227.15) scale(0.95,1)">60</text>
<text class="xl" transform="translate(475.56,227.15) scale(0.95,1)">80</text>
<text class="xl" transform="translate(494.95,227.15) scale(0.95,1)">100</text>
<text class="tt" transform="translate(407.9,147.25) scale(0.955,1)">L11</text>
<text class="tt" transform="translate(407.9,154.25) scale(0.955,1)">RMSE = 0.32</text>
<g clip-path="url(#cL12)"><polygon class="band" points="60.8,323.3 62.42,322.07 64.05,320.84 65.67,319.6 67.29,318.37 68.91,317.13 70.54,315.9 72.16,314.66 73.78,313.42 75.41,312.17 77.03,310.93 78.65,309.67 80.27,308.42 81.9,307.16 83.52,305.89 85.14,304.61 86.77,303.33 88.39,302.03 90.01,300.72 91.64,299.39 93.26,298.05 94.88,296.68 96.5,295.3 98.13,293.91 99.75,292.51 101.37,291.11 103,289.69 104.62,288.27 106.24,286.85 107.86,285.42 109.49,283.98 111.11,282.54 112.73,281.09 114.36,279.65 115.98,278.2 117.6,276.74 119.22,275.29 120.85,273.83 122.47,272.37 124.09,270.9 125.72,269.44 127.34,267.98 128.96,266.51 130.59,265.05 132.21,263.58 133.83,262.11 135.45,260.64 137.08,259.17 138.7,257.7 138.7,263.7 137.08,264.98 135.45,266.27 133.83,267.55 132.21,268.84 130.59,270.13 128.96,271.41 127.34,272.7 125.72,273.99 124.09,275.28 122.47,276.57 120.85,277.87 119.22,279.16 117.6,280.46 115.98,281.76 114.36,283.07 112.73,284.37 111.11,285.68 109.49,286.99 107.86,288.31 106.24,289.63 104.62,290.96 103,292.3 101.37,293.64 99.75,294.99 98.13,296.34 96.5,297.71 94.88,299.08 93.26,300.47 91.64,301.88 90.01,303.3 88.39,304.75 86.77,306.2 85.14,307.67 83.52,309.15 81.9,310.64 80.27,312.13 78.65,313.63 77.03,315.13 75.41,316.64 73.78,318.15 72.16,319.66 70.54,321.18 68.91,322.69 67.29,324.21 65.67,325.73 64.05,327.25 62.42,328.78 60.8,330.3"/><line class="halo" x1="60.8" y1="326.8" x2="138.7" y2="260.7"/><line class="reg" x1="60.8" y1="326.8" x2="138.7" y2="260.7"/><circle cx="60.8" cy="322.9" r="1.38" fill="#FFA000"/><circle cx="63.2" cy="318.9" r="1.38" fill="#FFA000"/><circle cx="63.8" cy="316" r="1.38" fill="#FFA000"/><circle cx="66.8" cy="311" r="1.38" fill="#FFA000"/><circle cx="74.2" cy="317.5" r="1.38" fill="#FFA000"/><circle cx="75.6" cy="309" r="1.38" fill="#FFA000"/><circle cx="84.5" cy="307.1" r="1.38" fill="#FFA000"/><circle cx="92.8" cy="303.7" r="1.38" fill="#FFA000"/><circle cx="61.2" cy="316.9" r="1.38" fill="#D1AE55"/><circle cx="62.8" cy="325.8" r="1.38" fill="#D1AE55"/><circle cx="69.7" cy="321.9" r="1.38" fill="#D1AE55"/><circle cx="76.6" cy="322.9" r="1.38" fill="#D1AE55"/><circle cx="85.5" cy="311.6" r="1.38" fill="#D1AE55"/><circle cx="86.5" cy="308.5" r="1.38" fill="#D1AE55"/><circle cx="89.4" cy="306.5" r="1.38" fill="#D1AE55"/><circle cx="98.7" cy="303.7" r="1.38" fill="#D1AE55"/><circle cx="101.3" cy="304.1" r="1.38" fill="#D1AE55"/><circle cx="107.8" cy="278.5" r="1.38" fill="#D1AE55"/><circle cx="114.1" cy="278.9" r="1.38" fill="#D1AE55"/><circle cx="115.1" cy="283.4" r="1.38" fill="#D1AE55"/><circle cx="116.1" cy="287.9" r="1.38" fill="#D1AE55"/><circle cx="117" cy="277.5" r="1.38" fill="#D1AE55"/><circle cx="60.4" cy="319.5" r="1.38" fill="#FFB3C6"/><circle cx="63.2" cy="313.6" r="1.38" fill="#FFB3C6"/><circle cx="72.3" cy="319.5" r="1.38" fill="#FFB3C6"/><circle cx="81" cy="307.7" r="1.38" fill="#FFB3C6"/><circle cx="84.5" cy="304.1" r="1.38" fill="#FFB3C6"/><circle cx="88.1" cy="301.2" r="1.38" fill="#FFB3C6"/><circle cx="99.3" cy="301.8" r="1.38" fill="#FFB3C6"/><circle cx="93.4" cy="306.5" r="1.38" fill="#0FA058"/><circle cx="109" cy="288.2" r="1.38" fill="#0FA058"/><circle cx="110" cy="280.6" r="1.38" fill="#0FA058"/><circle cx="119.6" cy="271.2" r="1.38" fill="#0FA058"/><circle cx="126.3" cy="264.3" r="1.38" fill="#0FA058"/><circle cx="127" cy="266.8" r="1.38" fill="#0FA058"/><circle cx="128.3" cy="258.2" r="1.38" fill="#0FA058"/><circle cx="131.6" cy="256.7" r="1.38" fill="#0FA058"/><circle cx="132.1" cy="258.7" r="1.38" fill="#0FA058"/><circle cx="131.1" cy="260.7" r="1.38" fill="#0FA058"/><circle cx="134.2" cy="254.1" r="1.38" fill="#0FA058"/><circle cx="125.7" cy="270.6" r="1.38" fill="#0FA058"/><circle cx="102.3" cy="301.2" r="1.38" fill="#990099"/><circle cx="108.6" cy="297.8" r="1.38" fill="#990099"/><circle cx="118" cy="276.1" r="1.38" fill="#990099"/><circle cx="118.4" cy="284.8" r="1.38" fill="#990099"/><circle cx="118" cy="289.3" r="1.38" fill="#990099"/><circle cx="119" cy="299.8" r="1.38" fill="#990099"/><circle cx="124.9" cy="274.1" r="1.38" fill="#990099"/><circle cx="127.5" cy="267.6" r="1.38" fill="#990099"/><circle cx="130.9" cy="264.3" r="1.38" fill="#990099"/><circle cx="132.2" cy="268.6" r="1.38" fill="#990099"/><circle cx="134.2" cy="266.2" r="1.38" fill="#990099"/><circle cx="138.7" cy="253.8" r="1.38" fill="#990099"/><circle cx="134.8" cy="268.2" r="1.38" fill="#990099"/></g>
<rect class="ax" x="48.7" y="241.5" width="96.95" height="94.45"/>
<path class="tk" d="M46.7 335.95H48.7M46.7 325.46H48.7M46.7 314.96H48.7M46.7 304.47H48.7M46.7 293.97H48.7M46.7 283.48H48.7M46.7 272.98H48.7M46.7 262.49H48.7M46.7 251.99H48.7M46.7 241.5H48.7M48.7 335.95V337.95M68.09 335.95V337.95M87.48 335.95V337.95M106.87 335.95V337.95M126.26 335.95V337.95M145.65 335.95V337.95"/>
<text class="yl" transform="translate(44.9,337.65) scale(0.95,1)">0.0</text>
<text class="yl" transform="translate(44.9,327.16) scale(0.95,1)">0.5</text>
<text class="yl" transform="translate(44.9,316.66) scale(0.95,1)">1.0</text>
<text class="yl" transform="translate(44.9,306.17) scale(0.95,1)">1.5</text>
<text class="yl" transform="translate(44.9,295.67) scale(0.95,1)">2.0</text>
<text class="yl" transform="translate(44.9,285.18) scale(0.95,1)">2.5</text>
<text class="yl" transform="translate(44.9,274.68) scale(0.95,1)">3.0</text>
<text class="yl" transform="translate(44.9,264.19) scale(0.95,1)">3.5</text>
<text class="yl" transform="translate(44.9,253.69) scale(0.95,1)">4.0</text>
<text class="yl" transform="translate(44.9,243.2) scale(0.95,1)">4.5</text>
<text class="xl" transform="translate(48.7,343.15) scale(0.95,1)">0</text>
<text class="xl" transform="translate(68.09,343.15) scale(0.95,1)">20</text>
<text class="xl" transform="translate(87.48,343.15) scale(0.95,1)">40</text>
<text class="xl" transform="translate(106.87,343.15) scale(0.95,1)">60</text>
<text class="xl" transform="translate(126.26,343.15) scale(0.95,1)">80</text>
<text class="xl" transform="translate(145.65,343.15) scale(0.95,1)">100</text>
<text class="tt" transform="translate(58.6,263.25) scale(0.955,1)">L12</text>
<text class="tt" transform="translate(58.6,270.25) scale(0.955,1)">RMSE = 0.3</text>
<g clip-path="url(#cL13)"><polygon class="band" points="167,324 168.94,322.83 170.88,321.66 172.82,320.49 174.76,319.32 176.7,318.15 178.64,316.98 180.58,315.82 182.52,314.65 184.46,313.47 186.4,312.25 188.34,311.04 190.28,309.83 192.21,308.62 194.15,307.41 196.09,306.2 198.03,304.98 199.97,303.77 201.91,302.56 203.85,301.34 205.79,300.1 207.73,298.87 209.67,297.63 211.61,296.4 213.55,295.16 215.49,293.91 217.43,292.58 219.37,291.26 221.31,289.94 223.25,288.62 225.19,287.3 227.13,285.97 229.07,284.65 231.01,283.33 232.95,282.01 234.89,280.69 236.83,279.36 238.76,278.04 240.7,276.71 242.64,275.34 244.58,273.98 246.52,272.62 248.46,271.26 250.4,269.9 252.34,268.54 254.28,267.18 256.22,265.82 258.16,264.46 260.1,263.1 260.1,269.6 258.16,270.79 256.22,271.97 254.28,273.16 252.34,274.35 250.4,275.53 248.46,276.72 246.52,277.91 244.58,279.09 242.64,280.28 240.7,281.47 238.76,282.69 236.83,283.94 234.89,285.18 232.95,286.43 231.01,287.67 229.07,288.91 227.13,290.16 225.19,291.4 223.25,292.65 221.31,293.89 219.37,295.14 217.43,296.38 215.49,297.63 213.55,298.97 211.61,300.35 209.67,301.73 207.73,303.11 205.79,304.49 203.85,305.87 201.91,307.27 199.97,308.69 198.03,310.11 196.09,311.52 194.15,312.94 192.21,314.35 190.28,315.77 188.34,317.19 186.4,318.6 184.46,320.02 182.52,321.53 180.58,323.06 178.64,324.59 176.7,326.13 174.76,327.66 172.82,329.2 170.88,330.73 168.94,332.27 167,333.8"/><line class="halo" x1="167" y1="327.8" x2="260.1" y2="266.2"/><line class="reg" x1="167" y1="327.8" x2="260.1" y2="266.2"/><circle cx="167" cy="322.9" r="1.38" fill="#FFA000"/><circle cx="168" cy="320.9" r="1.38" fill="#FFA000"/><circle cx="168.9" cy="319.5" r="1.38" fill="#FFA000"/><circle cx="170.5" cy="317.9" r="1.38" fill="#FFA000"/><circle cx="169.9" cy="309" r="1.38" fill="#FFA000"/><circle cx="170.9" cy="308.1" r="1.38" fill="#FFA000"/><circle cx="174.5" cy="309.6" r="1.38" fill="#FFA000"/><circle cx="178.4" cy="307.7" r="1.38" fill="#FFA000"/><circle cx="178.8" cy="312" r="1.38" fill="#FFA000"/><circle cx="182.8" cy="311.6" r="1.38" fill="#FFA000"/><circle cx="189.1" cy="305.1" r="1.38" fill="#FFA000"/><circle cx="192.6" cy="306.5" r="1.38" fill="#FFA000"/><circle cx="194.2" cy="303.7" r="1.38" fill="#FFA000"/><circle cx="188.7" cy="322.9" r="1.38" fill="#D1AE55"/><circle cx="190.6" cy="326.2" r="1.38" fill="#D1AE55"/><circle cx="192.6" cy="322.3" r="1.38" fill="#D1AE55"/><circle cx="208.8" cy="316.9" r="1.38" fill="#D1AE55"/><circle cx="210.8" cy="304.5" r="1.38" fill="#D1AE55"/><circle cx="212.3" cy="313.6" r="1.38" fill="#D1AE55"/><circle cx="214.7" cy="311.6" r="1.38" fill="#D1AE55"/><circle cx="215.3" cy="307.1" r="1.38" fill="#D1AE55"/><circle cx="217.3" cy="307.1" r="1.38" fill="#D1AE55"/><circle cx="217.9" cy="304.5" r="1.38" fill="#D1AE55"/><circle cx="231.1" cy="278.5" r="1.38" fill="#D1AE55"/><circle cx="237" cy="278.5" r="1.38" fill="#D1AE55"/><circle cx="240.9" cy="283.4" r="1.38" fill="#D1AE55"/><circle cx="244.9" cy="287.9" r="1.38" fill="#D1AE55"/><circle cx="202.9" cy="308.5" r="1.38" fill="#FFB3C6"/><circle cx="206.8" cy="320.9" r="1.38" fill="#FFB3C6"/><circle cx="210.8" cy="320.3" r="1.38" fill="#FFB3C6"/><circle cx="211.9" cy="314" r="1.38" fill="#FFB3C6"/><circle cx="217.9" cy="301.2" r="1.38" fill="#FFB3C6"/><circle cx="222.2" cy="307.7" r="1.38" fill="#FFB3C6"/><circle cx="211.4" cy="306.5" r="1.38" fill="#0FA058"/><circle cx="226.5" cy="288" r="1.38" fill="#0FA058"/><circle cx="231.1" cy="280.4" r="1.38" fill="#0FA058"/><circle cx="234" cy="280" r="1.38" fill="#0FA058"/><circle cx="243.5" cy="260.7" r="1.38" fill="#0FA058"/><circle cx="244.9" cy="267" r="1.38" fill="#0FA058"/><circle cx="244.3" cy="271" r="1.38" fill="#0FA058"/><circle cx="246.3" cy="271" r="1.38" fill="#0FA058"/><circle cx="247.4" cy="258.8" r="1.38" fill="#0FA058"/><circle cx="253.4" cy="256.8" r="1.38" fill="#0FA058"/><circle cx="258.1" cy="254.4" r="1.38" fill="#0FA058"/><circle cx="223.2" cy="301.2" r="1.38" fill="#990099"/><circle cx="229.7" cy="299.8" r="1.38" fill="#990099"/><circle cx="239.6" cy="276.5" r="1.38" fill="#990099"/><circle cx="239.6" cy="284.8" r="1.38" fill="#990099"/><circle cx="239.6" cy="289.3" r="1.38" fill="#990099"/><circle cx="239.6" cy="297.8" r="1.38" fill="#990099"/><circle cx="246.3" cy="274.1" r="1.38" fill="#990099"/><circle cx="247.8" cy="264.7" r="1.38" fill="#990099"/><circle cx="251.8" cy="264.7" r="1.38" fill="#990099"/><circle cx="252.2" cy="266.6" r="1.38" fill="#990099"/><circle cx="252.8" cy="268.6" r="1.38" fill="#990099"/><circle cx="253.8" cy="253.8" r="1.38" fill="#990099"/><circle cx="260.7" cy="268.2" r="1.38" fill="#990099"/></g>
<rect class="ax" x="165" y="241.8" width="96.95" height="94.45"/>
<path class="tk" d="M163 336.25H165M163 325.76H165M163 315.26H165M163 304.77H165M163 294.27H165M163 283.78H165M163 273.28H165M163 262.79H165M163 252.29H165M163 241.8H165M165 336.25V338.25M184.39 336.25V338.25M203.78 336.25V338.25M223.17 336.25V338.25M242.56 336.25V338.25M261.95 336.25V338.25"/>
<text class="yl" transform="translate(161.2,337.95) scale(0.95,1)">0.0</text>
<text class="yl" transform="translate(161.2,327.46) scale(0.95,1)">0.5</text>
<text class="yl" transform="translate(161.2,316.96) scale(0.95,1)">1.0</text>
<text class="yl" transform="translate(161.2,306.47) scale(0.95,1)">1.5</text>
<text class="yl" transform="translate(161.2,295.97) scale(0.95,1)">2.0</text>
<text class="yl" transform="translate(161.2,285.48) scale(0.95,1)">2.5</text>
<text class="yl" transform="translate(161.2,274.98) scale(0.95,1)">3.0</text>
<text class="yl" transform="translate(161.2,264.49) scale(0.95,1)">3.5</text>
<text class="yl" transform="translate(161.2,253.99) scale(0.95,1)">4.0</text>
<text class="yl" transform="translate(161.2,243.5) scale(0.95,1)">4.5</text>
<text class="xl" transform="translate(165,343.45) scale(0.95,1)">0</text>
<text class="xl" transform="translate(184.39,343.45) scale(0.95,1)">20</text>
<text class="xl" transform="translate(203.78,343.45) scale(0.95,1)">40</text>
<text class="xl" transform="translate(223.17,343.45) scale(0.95,1)">60</text>
<text class="xl" transform="translate(242.56,343.45) scale(0.95,1)">80</text>
<text class="xl" transform="translate(261.95,343.45) scale(0.95,1)">100</text>
<text class="tt" transform="translate(174.9,263.55) scale(0.955,1)">L13</text>
<text class="tt" transform="translate(174.9,270.55) scale(0.955,1)">RMSE = 0.5</text>
<g clip-path="url(#cL14)"><polygon class="band" points="284.9,322.4 286.8,321.16 288.7,319.93 290.6,318.69 292.5,317.5 294.4,316.36 296.3,315.22 298.2,314.08 300.1,312.93 302,311.86 303.9,310.81 305.8,309.76 307.7,308.71 309.6,307.66 311.5,306.61 313.4,305.56 315.3,304.5 317.2,303.45 319.1,302.49 321,301.57 322.9,300.65 324.8,299.58 326.7,298.49 328.6,297.41 330.5,296.33 332.4,295.23 334.3,294.04 336.2,292.86 338.1,291.67 340,290.48 341.9,289.29 343.8,288.08 345.7,286.85 347.6,285.61 349.5,284.38 351.4,283.14 353.3,281.9 355.2,280.67 357.1,279.43 359,278.2 360.9,276.95 362.8,275.69 364.7,274.44 366.6,273.18 368.5,271.93 370.4,270.67 372.3,269.41 374.2,268.16 376.1,266.9 376.1,273.4 374.2,274.54 372.3,275.68 370.4,276.81 368.5,277.95 366.6,279.09 364.7,280.23 362.8,281.37 360.9,282.51 359,283.74 357.1,285.05 355.2,286.36 353.3,287.68 351.4,288.99 349.5,290.31 347.6,291.62 345.7,292.93 343.8,294.25 341.9,295.73 340,297.36 338.1,298.99 336.2,300.62 334.3,302.25 332.4,303.88 330.5,305.51 328.6,307.29 326.7,309.13 324.8,310.96 322.9,312.8 321,314.65 319.1,316.5 317.2,318.29 315.3,319.97 313.4,321.66 311.5,323.34 309.6,325.03 307.7,326.49 305.8,327.89 303.9,329.29 302,330.69 300.1,332.06 298.2,333.33 296.3,334.6 294.4,335.87 292.5,337.14 290.6,338.47 288.7,339.85 286.8,341.22 284.9,342.6"/><line class="halo" x1="284.9" y1="331.1" x2="376.1" y2="269.1"/><line class="reg" x1="284.9" y1="331.1" x2="376.1" y2="269.1"/><circle cx="284.6" cy="305.7" r="1.38" fill="#FFA000"/><circle cx="284.9" cy="312.4" r="1.38" fill="#FFA000"/><circle cx="286.9" cy="308.5" r="1.38" fill="#FFA000"/><circle cx="289.3" cy="304.5" r="1.38" fill="#FFA000"/><circle cx="290.9" cy="308.1" r="1.38" fill="#FFA000"/><circle cx="307" cy="327.4" r="1.38" fill="#D1AE55"/><circle cx="316.1" cy="324.2" r="1.38" fill="#D1AE55"/><circle cx="318.1" cy="323.8" r="1.38" fill="#D1AE55"/><circle cx="327.9" cy="313.6" r="1.38" fill="#D1AE55"/><circle cx="328.3" cy="317.9" r="1.38" fill="#D1AE55"/><circle cx="329.9" cy="309" r="1.38" fill="#D1AE55"/><circle cx="331.9" cy="307.7" r="1.38" fill="#D1AE55"/><circle cx="336.2" cy="308.1" r="1.38" fill="#D1AE55"/><circle cx="340.6" cy="305.7" r="1.38" fill="#D1AE55"/><circle cx="349" cy="283.4" r="1.38" fill="#D1AE55"/><circle cx="353" cy="279.5" r="1.38" fill="#D1AE55"/><circle cx="356.9" cy="282.8" r="1.38" fill="#D1AE55"/><circle cx="358.3" cy="284" r="1.38" fill="#D1AE55"/><circle cx="361.5" cy="288.7" r="1.38" fill="#D1AE55"/><circle cx="307.6" cy="324.8" r="1.38" fill="#FFB3C6"/><circle cx="317.5" cy="321.9" r="1.38" fill="#FFB3C6"/><circle cx="326.8" cy="320.9" r="1.38" fill="#FFB3C6"/><circle cx="335.2" cy="301.7" r="1.38" fill="#FFB3C6"/><circle cx="340.2" cy="309" r="1.38" fill="#FFB3C6"/><circle cx="342.1" cy="308.5" r="1.38" fill="#FFB3C6"/><circle cx="343.7" cy="302.5" r="1.38" fill="#FFB3C6"/><circle cx="348.1" cy="289.3" r="1.38" fill="#0FA058"/><circle cx="351.6" cy="281.4" r="1.38" fill="#0FA058"/><circle cx="354.4" cy="280.1" r="1.38" fill="#0FA058"/><circle cx="359.5" cy="272.2" r="1.38" fill="#0FA058"/><circle cx="365.4" cy="266.2" r="1.38" fill="#0FA058"/><circle cx="366.2" cy="270.6" r="1.38" fill="#0FA058"/><circle cx="366.8" cy="261.7" r="1.38" fill="#0FA058"/><circle cx="368.8" cy="259.7" r="1.38" fill="#0FA058"/><circle cx="370.2" cy="259.1" r="1.38" fill="#0FA058"/><circle cx="372.1" cy="256.8" r="1.38" fill="#0FA058"/><circle cx="373.7" cy="255.2" r="1.38" fill="#0FA058"/><circle cx="342.5" cy="298.6" r="1.38" fill="#990099"/><circle cx="348.5" cy="300.6" r="1.38" fill="#990099"/><circle cx="353" cy="289.9" r="1.38" fill="#990099"/><circle cx="355" cy="285" r="1.38" fill="#990099"/><circle cx="354.4" cy="276.9" r="1.38" fill="#990099"/><circle cx="365.4" cy="269" r="1.38" fill="#990099"/><circle cx="367.8" cy="274.5" r="1.38" fill="#990099"/><circle cx="372.1" cy="254.4" r="1.38" fill="#990099"/><circle cx="372.1" cy="267.6" r="1.38" fill="#990099"/><circle cx="373.7" cy="268.2" r="1.38" fill="#990099"/><circle cx="375.7" cy="265.7" r="1.38" fill="#990099"/><circle cx="366.2" cy="267.6" r="1.38" fill="#990099"/></g>
<rect class="ax" x="281.45" y="242.6" width="96.95" height="94.45"/>
<path class="tk" d="M279.45 337.05H281.45M279.45 326.56H281.45M279.45 316.06H281.45M279.45 305.57H281.45M279.45 295.07H281.45M279.45 284.58H281.45M279.45 274.08H281.45M279.45 263.59H281.45M279.45 253.09H281.45M279.45 242.6H281.45M281.45 337.05V339.05M300.84 337.05V339.05M320.23 337.05V339.05M339.62 337.05V339.05M359.01 337.05V339.05M378.4 337.05V339.05"/>
<text class="yl" transform="translate(277.65,338.75) scale(0.95,1)">0.0</text>
<text class="yl" transform="translate(277.65,328.26) scale(0.95,1)">0.5</text>
<text class="yl" transform="translate(277.65,317.76) scale(0.95,1)">1.0</text>
<text class="yl" transform="translate(277.65,307.27) scale(0.95,1)">1.5</text>
<text class="yl" transform="translate(277.65,296.77) scale(0.95,1)">2.0</text>
<text class="yl" transform="translate(277.65,286.28) scale(0.95,1)">2.5</text>
<text class="yl" transform="translate(277.65,275.78) scale(0.95,1)">3.0</text>
<text class="yl" transform="translate(277.65,265.29) scale(0.95,1)">3.5</text>
<text class="yl" transform="translate(277.65,254.79) scale(0.95,1)">4.0</text>
<text class="yl" transform="translate(277.65,244.3) scale(0.95,1)">4.5</text>
<text class="xl" transform="translate(281.45,344.25) scale(0.95,1)">0</text>
<text class="xl" transform="translate(300.84,344.25) scale(0.95,1)">20</text>
<text class="xl" transform="translate(320.23,344.25) scale(0.95,1)">40</text>
<text class="xl" transform="translate(339.62,344.25) scale(0.95,1)">60</text>
<text class="xl" transform="translate(359.01,344.25) scale(0.95,1)">80</text>
<text class="xl" transform="translate(378.4,344.25) scale(0.95,1)">100</text>
<text class="tt" transform="translate(291.35,264.35) scale(0.955,1)">L14</text>
<text class="tt" transform="translate(291.35,271.35) scale(0.955,1)">RMSE = 0.55</text>
<g clip-path="url(#cL15)"><polygon class="band" points="429,326.7 430.34,325.34 431.68,323.97 433.02,322.61 434.36,321.24 435.7,319.87 437.04,318.5 438.38,317.13 439.72,315.76 441.06,314.39 442.4,313.01 443.74,311.64 445.07,310.26 446.41,308.88 447.75,307.49 449.09,306.1 450.43,304.71 451.77,303.32 453.11,301.91 454.45,300.51 455.79,299.09 457.13,297.67 458.47,296.24 459.81,294.8 461.15,293.35 462.49,291.89 463.83,290.41 465.17,288.92 466.51,287.42 467.85,285.91 469.19,284.38 470.53,282.84 471.87,281.28 473.21,279.72 474.55,278.14 475.89,276.56 477.23,274.97 478.56,273.38 479.9,271.78 481.24,270.17 482.58,268.56 483.92,266.95 485.26,265.33 486.6,263.72 487.94,262.1 489.28,260.47 490.62,258.85 491.96,257.23 493.3,255.6 493.3,262.6 491.96,263.96 490.62,265.32 489.28,266.68 487.94,268.04 486.6,269.4 485.26,270.77 483.92,272.13 482.58,273.51 481.24,274.88 479.9,276.26 478.56,277.64 477.23,279.03 475.89,280.42 474.55,281.82 473.21,283.23 471.87,284.65 470.53,286.08 469.19,287.52 467.85,288.98 466.51,290.44 465.17,291.93 463.83,293.42 462.49,294.93 461.15,296.45 459.81,297.98 458.47,299.53 457.13,301.08 455.79,302.64 454.45,304.21 453.11,305.79 451.77,307.37 450.43,308.95 449.09,310.55 447.75,312.14 446.41,313.74 445.07,315.34 443.74,316.95 442.4,318.55 441.06,320.16 439.72,321.77 438.38,323.38 437.04,325 435.7,326.61 434.36,328.23 433.02,329.84 431.68,331.46 430.34,333.08 429,334.7"/><line class="halo" x1="429" y1="330.7" x2="493.3" y2="259.1"/><line class="reg" x1="429" y1="330.7" x2="493.3" y2="259.1"/><circle cx="429.5" cy="327.8" r="1.38" fill="#D1AE55"/><circle cx="431.5" cy="323.8" r="1.38" fill="#D1AE55"/><circle cx="434.1" cy="323.4" r="1.38" fill="#D1AE55"/><circle cx="443.9" cy="309" r="1.38" fill="#D1AE55"/><circle cx="448.7" cy="317.5" r="1.38" fill="#D1AE55"/><circle cx="449.9" cy="307.7" r="1.38" fill="#D1AE55"/><circle cx="453.8" cy="308.1" r="1.38" fill="#D1AE55"/><circle cx="457.7" cy="305.1" r="1.38" fill="#D1AE55"/><circle cx="465.6" cy="305.1" r="1.38" fill="#D1AE55"/><circle cx="471.6" cy="288.7" r="1.38" fill="#D1AE55"/><circle cx="472" cy="286" r="1.38" fill="#D1AE55"/><circle cx="474.3" cy="279.5" r="1.38" fill="#D1AE55"/><circle cx="475.5" cy="281.4" r="1.38" fill="#D1AE55"/><circle cx="476.3" cy="284.4" r="1.38" fill="#D1AE55"/><circle cx="428.6" cy="321.9" r="1.38" fill="#FFB3C6"/><circle cx="443.4" cy="302.5" r="1.38" fill="#FFB3C6"/><circle cx="450.6" cy="301.7" r="1.38" fill="#FFB3C6"/><circle cx="453.8" cy="314.4" r="1.38" fill="#FFB3C6"/><circle cx="447.9" cy="307.1" r="1.38" fill="#0FA058"/><circle cx="460.1" cy="288.7" r="1.38" fill="#0FA058"/><circle cx="468" cy="281.4" r="1.38" fill="#0FA058"/><circle cx="469.6" cy="280.8" r="1.38" fill="#0FA058"/><circle cx="478.9" cy="272.2" r="1.38" fill="#0FA058"/><circle cx="481.4" cy="271.6" r="1.38" fill="#0FA058"/><circle cx="482.8" cy="261.7" r="1.38" fill="#0FA058"/><circle cx="484.2" cy="265.7" r="1.38" fill="#0FA058"/><circle cx="485.8" cy="259.7" r="1.38" fill="#0FA058"/><circle cx="488.1" cy="255.2" r="1.38" fill="#0FA058"/><circle cx="489.7" cy="257.8" r="1.38" fill="#0FA058"/><circle cx="462.1" cy="298.6" r="1.38" fill="#990099"/><circle cx="465" cy="300.6" r="1.38" fill="#990099"/><circle cx="466" cy="289.9" r="1.38" fill="#990099"/><circle cx="470" cy="302.1" r="1.38" fill="#990099"/><circle cx="476.3" cy="265.1" r="1.38" fill="#990099"/><circle cx="477.5" cy="276.9" r="1.38" fill="#990099"/><circle cx="481.8" cy="274.5" r="1.38" fill="#990099"/><circle cx="481.4" cy="267.6" r="1.38" fill="#990099"/><circle cx="486.2" cy="266.2" r="1.38" fill="#990099"/><circle cx="488.1" cy="268.6" r="1.38" fill="#990099"/><circle cx="489.7" cy="269" r="1.38" fill="#990099"/><circle cx="491.3" cy="268.2" r="1.38" fill="#990099"/><circle cx="493.3" cy="254.4" r="1.38" fill="#990099"/></g>
<rect class="ax" x="398.45" y="242.6" width="96.95" height="94.45"/>
<path class="tk" d="M396.45 337.05H398.45M396.45 326.56H398.45M396.45 316.06H398.45M396.45 305.57H398.45M396.45 295.07H398.45M396.45 284.58H398.45M396.45 274.08H398.45M396.45 263.59H398.45M396.45 253.09H398.45M396.45 242.6H398.45M398.45 337.05V339.05M417.84 337.05V339.05M437.23 337.05V339.05M456.62 337.05V339.05M476.01 337.05V339.05M495.4 337.05V339.05"/>
<text class="yl" transform="translate(394.65,338.75) scale(0.95,1)">0.0</text>
<text class="yl" transform="translate(394.65,328.26) scale(0.95,1)">0.5</text>
<text class="yl" transform="translate(394.65,317.76) scale(0.95,1)">1.0</text>
<text class="yl" transform="translate(394.65,307.27) scale(0.95,1)">1.5</text>
<text class="yl" transform="translate(394.65,296.77) scale(0.95,1)">2.0</text>
<text class="yl" transform="translate(394.65,286.28) scale(0.95,1)">2.5</text>
<text class="yl" transform="translate(394.65,275.78) scale(0.95,1)">3.0</text>
<text class="yl" transform="translate(394.65,265.29) scale(0.95,1)">3.5</text>
<text class="yl" transform="translate(394.65,254.79) scale(0.95,1)">4.0</text>
<text class="yl" transform="translate(394.65,244.3) scale(0.95,1)">4.5</text>
<text class="xl" transform="translate(398.45,344.25) scale(0.95,1)">0</text>
<text class="xl" transform="translate(417.84,344.25) scale(0.95,1)">20</text>
<text class="xl" transform="translate(437.23,344.25) scale(0.95,1)">40</text>
<text class="xl" transform="translate(456.62,344.25) scale(0.95,1)">60</text>
<text class="xl" transform="translate(476.01,344.25) scale(0.95,1)">80</text>
<text class="xl" transform="translate(495.4,344.25) scale(0.95,1)">100</text>
<text class="tt" transform="translate(408.35,264.35) scale(0.955,1)">L15</text>
<text class="tt" transform="translate(408.35,271.35) scale(0.955,1)">RMSE = 0.3</text>
<g clip-path="url(#cL16)"><polygon class="band" points="75.6,445.3 76.97,443.79 78.34,442.28 79.71,440.77 81.07,439.26 82.44,437.75 83.81,436.24 85.18,434.73 86.55,433.21 87.92,431.7 89.29,430.18 90.66,428.66 92.03,427.14 93.39,425.62 94.76,424.09 96.13,422.56 97.5,421.03 98.87,419.5 100.24,417.96 101.61,416.41 102.98,414.85 104.34,413.29 105.71,411.72 107.08,410.14 108.45,408.54 109.82,406.94 111.19,405.32 112.56,403.69 113.93,402.05 115.29,400.4 116.66,398.75 118.03,397.09 119.4,395.42 120.77,393.75 122.14,392.07 123.51,390.38 124.88,388.7 126.24,387.01 127.61,385.31 128.98,383.62 130.35,381.92 131.72,380.22 133.09,378.52 134.46,376.82 135.83,375.12 137.19,373.42 138.56,371.71 139.93,370.01 141.3,368.3 141.3,373.3 139.93,374.82 138.56,376.35 137.19,377.87 135.83,379.4 134.46,380.92 133.09,382.45 131.72,383.98 130.35,385.51 128.98,387.04 127.61,388.58 126.24,390.11 124.88,391.65 123.51,393.2 122.14,394.74 120.77,396.29 119.4,397.85 118.03,399.41 116.66,400.98 115.29,402.55 113.93,404.13 112.56,405.72 111.19,407.32 109.82,408.94 108.45,410.56 107.08,412.19 105.71,413.84 104.34,415.5 102.98,417.16 101.61,418.84 100.24,420.52 98.87,422.21 97.5,423.9 96.13,425.6 94.76,427.3 93.39,429 92.03,430.71 90.66,432.42 89.29,434.13 87.92,435.84 86.55,437.56 85.18,439.27 83.81,440.99 82.44,442.7 81.07,444.42 79.71,446.14 78.34,447.86 76.97,449.58 75.6,451.3"/><line class="halo" x1="75.6" y1="448.3" x2="141.3" y2="370.8"/><line class="reg" x1="75.6" y1="448.3" x2="141.3" y2="370.8"/><circle cx="75.6" cy="438.5" r="1.38" fill="#FFB3C6"/><circle cx="79" cy="437.3" r="1.38" fill="#FFB3C6"/><circle cx="76.2" cy="448.7" r="1.38" fill="#FFB3C6"/><circle cx="86.1" cy="440.8" r="1.38" fill="#FFB3C6"/><circle cx="92" cy="421.1" r="1.38" fill="#FFB3C6"/><circle cx="96.3" cy="426" r="1.38" fill="#FFB3C6"/><circle cx="76.6" cy="443.8" r="1.38" fill="#D1AE55"/><circle cx="81.5" cy="439.3" r="1.38" fill="#D1AE55"/><circle cx="84.5" cy="440.4" r="1.38" fill="#D1AE55"/><circle cx="92.8" cy="433.9" r="1.38" fill="#D1AE55"/><circle cx="92.4" cy="429.4" r="1.38" fill="#D1AE55"/><circle cx="102.6" cy="421.5" r="1.38" fill="#D1AE55"/><circle cx="108.6" cy="422.1" r="1.38" fill="#D1AE55"/><circle cx="115.1" cy="396.5" r="1.38" fill="#D1AE55"/><circle cx="116.1" cy="395.9" r="1.38" fill="#D1AE55"/><circle cx="121.6" cy="398.4" r="1.38" fill="#D1AE55"/><circle cx="92" cy="423.5" r="1.38" fill="#0FA058"/><circle cx="107.8" cy="405.7" r="1.38" fill="#0FA058"/><circle cx="115.1" cy="398.4" r="1.38" fill="#0FA058"/><circle cx="117" cy="397.4" r="1.38" fill="#0FA058"/><circle cx="121" cy="388.6" r="1.38" fill="#0FA058"/><circle cx="123" cy="388" r="1.38" fill="#0FA058"/><circle cx="126.3" cy="382.1" r="1.38" fill="#0FA058"/><circle cx="127.9" cy="378.1" r="1.38" fill="#0FA058"/><circle cx="131.4" cy="376.1" r="1.38" fill="#0FA058"/><circle cx="132.8" cy="374.2" r="1.38" fill="#0FA058"/><circle cx="134.2" cy="376.7" r="1.38" fill="#0FA058"/><circle cx="137.8" cy="371.4" r="1.38" fill="#0FA058"/><circle cx="106.2" cy="416.8" r="1.38" fill="#990099"/><circle cx="107.8" cy="418.7" r="1.38" fill="#990099"/><circle cx="112.1" cy="414.8" r="1.38" fill="#990099"/><circle cx="111.7" cy="406.9" r="1.38" fill="#990099"/><circle cx="117.6" cy="402.4" r="1.38" fill="#990099"/><circle cx="122.4" cy="393.5" r="1.38" fill="#990099"/><circle cx="126.3" cy="384" r="1.38" fill="#990099"/><circle cx="129.5" cy="382.7" r="1.38" fill="#990099"/><circle cx="128.9" cy="391.1" r="1.38" fill="#990099"/><circle cx="131.8" cy="385.2" r="1.38" fill="#990099"/><circle cx="133.4" cy="381.7" r="1.38" fill="#990099"/><circle cx="134.8" cy="385.6" r="1.38" fill="#990099"/><circle cx="141.3" cy="370.8" r="1.38" fill="#990099"/></g>
<rect class="ax" x="49.4" y="358.9" width="96.95" height="94.45"/>
<path class="tk" d="M47.4 453.35H49.4M47.4 442.86H49.4M47.4 432.36H49.4M47.4 421.87H49.4M47.4 411.37H49.4M47.4 400.88H49.4M47.4 390.38H49.4M47.4 379.89H49.4M47.4 369.39H49.4M47.4 358.9H49.4M49.4 453.35V455.35M68.79 453.35V455.35M88.18 453.35V455.35M107.57 453.35V455.35M126.96 453.35V455.35M146.35 453.35V455.35"/>
<text class="yl" transform="translate(45.6,455.05) scale(0.95,1)">0.0</text>
<text class="yl" transform="translate(45.6,444.56) scale(0.95,1)">0.5</text>
<text class="yl" transform="translate(45.6,434.06) scale(0.95,1)">1.0</text>
<text class="yl" transform="translate(45.6,423.57) scale(0.95,1)">1.5</text>
<text class="yl" transform="translate(45.6,413.07) scale(0.95,1)">2.0</text>
<text class="yl" transform="translate(45.6,402.58) scale(0.95,1)">2.5</text>
<text class="yl" transform="translate(45.6,392.08) scale(0.95,1)">3.0</text>
<text class="yl" transform="translate(45.6,381.59) scale(0.95,1)">3.5</text>
<text class="yl" transform="translate(45.6,371.09) scale(0.95,1)">4.0</text>
<text class="yl" transform="translate(45.6,360.6) scale(0.95,1)">4.5</text>
<text class="xl" transform="translate(49.4,460.55) scale(0.95,1)">0</text>
<text class="xl" transform="translate(68.79,460.55) scale(0.95,1)">20</text>
<text class="xl" transform="translate(88.18,460.55) scale(0.95,1)">40</text>
<text class="xl" transform="translate(107.57,460.55) scale(0.95,1)">60</text>
<text class="xl" transform="translate(126.96,460.55) scale(0.95,1)">80</text>
<text class="xl" transform="translate(146.35,460.55) scale(0.95,1)">100</text>
<text class="tt" transform="translate(59.3,380.65) scale(0.955,1)">L16</text>
<text class="tt" transform="translate(59.3,387.65) scale(0.955,1)">RMSE = 0.23</text>
<g clip-path="url(#cL17)"><polygon class="band" points="170.5,447 172,445.64 173.49,444.28 174.99,442.92 176.48,441.56 177.98,440.2 179.47,438.84 180.97,437.47 182.47,436.11 183.96,434.74 185.46,433.37 186.95,432 188.45,430.63 189.95,429.25 191.44,427.88 192.94,426.49 194.43,425.11 195.93,423.72 197.43,422.32 198.92,420.91 200.42,419.5 201.91,418.08 203.41,416.64 204.9,415.19 206.4,413.73 207.9,412.24 209.39,410.72 210.89,409.18 212.38,407.59 213.88,405.97 215.38,404.31 216.87,402.63 218.37,400.94 219.86,399.23 221.36,397.52 222.85,395.79 224.35,394.06 225.85,392.31 227.34,390.56 228.84,388.8 230.33,387.03 231.83,385.26 233.33,383.48 234.82,381.69 236.32,379.9 237.81,378.11 239.31,376.31 240.8,374.5 242.3,372.7 242.3,380.7 240.8,382.24 239.31,383.78 237.81,385.33 236.32,386.88 234.82,388.44 233.33,390 231.83,391.57 230.33,393.14 228.84,394.72 227.34,396.3 225.85,397.89 224.35,399.49 222.85,401.1 221.36,402.72 219.86,404.35 218.37,406 216.87,407.65 215.38,409.31 213.88,411 212.38,412.72 210.89,414.49 209.39,416.29 207.9,418.12 206.4,419.97 204.9,421.85 203.41,423.75 201.91,425.66 200.42,427.58 198.92,429.51 197.43,431.46 195.93,433.4 194.43,435.36 192.94,437.32 191.44,439.28 189.95,441.25 188.45,443.22 186.95,445.19 185.46,447.17 183.96,449.14 182.47,451.12 180.97,453.1 179.47,455.09 177.98,457.07 176.48,459.05 174.99,461.04 173.49,463.03 172,465.01 170.5,467"/><line class="halo" x1="170.5" y1="457" x2="242.3" y2="376.7"/><line class="reg" x1="170.5" y1="457" x2="242.3" y2="376.7"/><circle cx="170.5" cy="438.5" r="1.38" fill="#FFB3C6"/><circle cx="198.9" cy="420.1" r="1.38" fill="#FFB3C6"/><circle cx="202.5" cy="432" r="1.38" fill="#FFB3C6"/><circle cx="185.1" cy="397.1" r="1.38" fill="#D1AE55"/><circle cx="184.7" cy="444.4" r="1.38" fill="#D1AE55"/><circle cx="188.3" cy="441.2" r="1.38" fill="#D1AE55"/><circle cx="191" cy="441.2" r="1.38" fill="#D1AE55"/><circle cx="200.5" cy="430.6" r="1.38" fill="#D1AE55"/><circle cx="202.1" cy="425.1" r="1.38" fill="#D1AE55"/><circle cx="203.5" cy="426" r="1.38" fill="#D1AE55"/><circle cx="205.4" cy="426.6" r="1.38" fill="#D1AE55"/><circle cx="206" cy="422.7" r="1.38" fill="#D1AE55"/><circle cx="206.4" cy="434.9" r="1.38" fill="#D1AE55"/><circle cx="219.2" cy="422.7" r="1.38" fill="#D1AE55"/><circle cx="220.2" cy="406.3" r="1.38" fill="#D1AE55"/><circle cx="221.2" cy="397.1" r="1.38" fill="#D1AE55"/><circle cx="222.6" cy="401" r="1.38" fill="#D1AE55"/><circle cx="227.7" cy="397.1" r="1.38" fill="#D1AE55"/><circle cx="228.5" cy="399.4" r="1.38" fill="#D1AE55"/><circle cx="213.9" cy="406.3" r="1.38" fill="#0FA058"/><circle cx="216.7" cy="398.4" r="1.38" fill="#0FA058"/><circle cx="220.6" cy="399" r="1.38" fill="#0FA058"/><circle cx="225.2" cy="389.2" r="1.38" fill="#0FA058"/><circle cx="227.1" cy="389.6" r="1.38" fill="#0FA058"/><circle cx="231.1" cy="379.3" r="1.38" fill="#0FA058"/><circle cx="232.1" cy="383.2" r="1.38" fill="#0FA058"/><circle cx="235.6" cy="385.6" r="1.38" fill="#0FA058"/><circle cx="236" cy="377.3" r="1.38" fill="#0FA058"/><circle cx="237.2" cy="372.2" r="1.38" fill="#0FA058"/><circle cx="240" cy="375.4" r="1.38" fill="#0FA058"/><circle cx="213.9" cy="419.5" r="1.38" fill="#990099"/><circle cx="215.9" cy="417.2" r="1.38" fill="#990099"/><circle cx="216.7" cy="415.6" r="1.38" fill="#990099"/><circle cx="218.6" cy="407.7" r="1.38" fill="#990099"/><circle cx="219.8" cy="403" r="1.38" fill="#990099"/><circle cx="229.1" cy="394.5" r="1.38" fill="#990099"/><circle cx="230.5" cy="392.5" r="1.38" fill="#990099"/><circle cx="230.1" cy="386.6" r="1.38" fill="#990099"/><circle cx="232.1" cy="384" r="1.38" fill="#990099"/><circle cx="233" cy="382.7" r="1.38" fill="#990099"/><circle cx="234" cy="386.6" r="1.38" fill="#990099"/><circle cx="236" cy="382.7" r="1.38" fill="#990099"/><circle cx="242.3" cy="371.8" r="1.38" fill="#990099"/></g>
<rect class="ax" x="165.5" y="360" width="96.95" height="94.45"/>
<path class="tk" d="M163.5 454.45H165.5M163.5 443.96H165.5M163.5 433.46H165.5M163.5 422.97H165.5M163.5 412.47H165.5M163.5 401.98H165.5M163.5 391.48H165.5M163.5 380.99H165.5M163.5 370.49H165.5M163.5 360H165.5M165.5 454.45V456.45M184.89 454.45V456.45M204.28 454.45V456.45M223.67 454.45V456.45M243.06 454.45V456.45M262.45 454.45V456.45"/>
<text class="yl" transform="translate(161.7,456.15) scale(0.95,1)">0.0</text>
<text class="yl" transform="translate(161.7,445.66) scale(0.95,1)">0.5</text>
<text class="yl" transform="translate(161.7,435.16) scale(0.95,1)">1.0</text>
<text class="yl" transform="translate(161.7,424.67) scale(0.95,1)">1.5</text>
<text class="yl" transform="translate(161.7,414.17) scale(0.95,1)">2.0</text>
<text class="yl" transform="translate(161.7,403.68) scale(0.95,1)">2.5</text>
<text class="yl" transform="translate(161.7,393.18) scale(0.95,1)">3.0</text>
<text class="yl" transform="translate(161.7,382.69) scale(0.95,1)">3.5</text>
<text class="yl" transform="translate(161.7,372.19) scale(0.95,1)">4.0</text>
<text class="yl" transform="translate(161.7,361.7) scale(0.95,1)">4.5</text>
<text class="xl" transform="translate(165.5,461.65) scale(0.95,1)">0</text>
<text class="xl" transform="translate(184.89,461.65) scale(0.95,1)">20</text>
<text class="xl" transform="translate(204.28,461.65) scale(0.95,1)">40</text>
<text class="xl" transform="translate(223.67,461.65) scale(0.95,1)">60</text>
<text class="xl" transform="translate(243.06,461.65) scale(0.95,1)">80</text>
<text class="xl" transform="translate(262.45,461.65) scale(0.95,1)">100</text>
<text class="tt" transform="translate(175.4,381.75) scale(0.955,1)">L17</text>
<text class="tt" transform="translate(175.4,388.75) scale(0.955,1)">RMSE = 0.43</text>
<g clip-path="url(#cL18)"><polygon class="band" points="291.3,442.8 292.48,441.43 293.65,440.05 294.82,438.68 296,437.31 297.18,435.93 298.35,434.55 299.53,433.17 300.7,431.79 301.88,430.41 303.05,429.02 304.23,427.63 305.4,426.24 306.57,424.84 307.75,423.44 308.93,422.04 310.1,420.63 311.27,419.21 312.45,417.79 313.62,416.35 314.8,414.91 315.98,413.45 317.15,411.98 318.32,410.5 319.5,409 320.68,407.49 321.85,405.96 323.02,404.44 324.2,402.9 325.38,401.36 326.55,399.8 327.73,398.25 328.9,396.68 330.07,395.11 331.25,393.54 332.43,391.96 333.6,390.38 334.77,388.8 335.95,387.21 337.12,385.61 338.3,384.02 339.48,382.42 340.65,380.83 341.82,379.22 343,377.62 344.18,376.02 345.35,374.41 346.52,372.81 347.7,371.2 347.7,377.2 346.52,378.62 345.35,380.04 344.18,381.46 343,382.88 341.82,384.3 340.65,385.72 339.48,387.15 338.3,388.58 337.12,390.01 335.95,391.44 334.77,392.88 333.6,394.32 332.43,395.76 331.25,397.21 330.07,398.66 328.9,400.12 327.73,401.58 326.55,403.05 325.38,404.52 324.2,406 323.02,407.49 321.85,408.99 320.68,410.49 319.5,412 318.32,413.53 317.15,415.07 315.98,416.63 314.8,418.19 313.62,419.77 312.45,421.36 311.27,422.96 310.1,424.57 308.93,426.19 307.75,427.81 306.57,429.43 305.4,431.06 304.23,432.69 303.05,434.33 301.88,435.97 300.7,437.61 299.53,439.25 298.35,440.9 297.18,442.55 296,444.19 294.82,445.84 293.65,447.5 292.48,449.15 291.3,450.8"/><line class="halo" x1="291.3" y1="446.8" x2="347.7" y2="374.2"/><line class="reg" x1="291.3" y1="446.8" x2="347.7" y2="374.2"/><circle cx="291.3" cy="435.9" r="1.38" fill="#D1AE55"/><circle cx="291.8" cy="442.4" r="1.38" fill="#D1AE55"/><circle cx="293.8" cy="444.8" r="1.38" fill="#D1AE55"/><circle cx="308.2" cy="431.4" r="1.38" fill="#D1AE55"/><circle cx="309" cy="426" r="1.38" fill="#D1AE55"/><circle cx="310.2" cy="426.6" r="1.38" fill="#D1AE55"/><circle cx="321.4" cy="423.5" r="1.38" fill="#D1AE55"/><circle cx="322.4" cy="407.3" r="1.38" fill="#D1AE55"/><circle cx="331.9" cy="397.4" r="1.38" fill="#D1AE55"/><circle cx="333.3" cy="399.4" r="1.38" fill="#D1AE55"/><circle cx="333.9" cy="402.4" r="1.38" fill="#D1AE55"/><circle cx="334.6" cy="401.4" r="1.38" fill="#D1AE55"/><circle cx="291.8" cy="448.7" r="1.38" fill="#FFB3C6"/><circle cx="298.4" cy="427.4" r="1.38" fill="#FFB3C6"/><circle cx="301.1" cy="420.7" r="1.38" fill="#FFB3C6"/><circle cx="305.1" cy="420.7" r="1.38" fill="#FFB3C6"/><circle cx="305.7" cy="427" r="1.38" fill="#FFB3C6"/><circle cx="310.6" cy="433" r="1.38" fill="#FFB3C6"/><circle cx="317.5" cy="423.1" r="1.38" fill="#FFB3C6"/><circle cx="333.9" cy="384" r="1.38" fill="#FFB3C6"/><circle cx="314.1" cy="426" r="1.38" fill="#0FA058"/><circle cx="320.4" cy="407.3" r="1.38" fill="#0FA058"/><circle cx="324.4" cy="399.8" r="1.38" fill="#0FA058"/><circle cx="327.9" cy="399" r="1.38" fill="#0FA058"/><circle cx="328.3" cy="390.5" r="1.38" fill="#0FA058"/><circle cx="332.7" cy="380.1" r="1.38" fill="#0FA058"/><circle cx="335.8" cy="378.1" r="1.38" fill="#0FA058"/><circle cx="338.2" cy="377.7" r="1.38" fill="#0FA058"/><circle cx="336.6" cy="384" r="1.38" fill="#0FA058"/><circle cx="341.7" cy="373.4" r="1.38" fill="#0FA058"/><circle cx="344.5" cy="376.1" r="1.38" fill="#0FA058"/><circle cx="318.1" cy="419.1" r="1.38" fill="#990099"/><circle cx="320.1" cy="420.7" r="1.38" fill="#990099"/><circle cx="322.4" cy="416.8" r="1.38" fill="#990099"/><circle cx="326" cy="404.4" r="1.38" fill="#990099"/><circle cx="330.3" cy="408.9" r="1.38" fill="#990099"/><circle cx="334.6" cy="393.5" r="1.38" fill="#990099"/><circle cx="335.8" cy="395.5" r="1.38" fill="#990099"/><circle cx="338.6" cy="387.6" r="1.38" fill="#990099"/><circle cx="344.5" cy="383.6" r="1.38" fill="#990099"/><circle cx="347.7" cy="372.8" r="1.38" fill="#990099"/></g>
<rect class="ax" x="281.8" y="361" width="96.95" height="94.45"/>
<path class="tk" d="M279.8 455.45H281.8M279.8 444.96H281.8M279.8 434.46H281.8M279.8 423.97H281.8M279.8 413.47H281.8M279.8 402.98H281.8M279.8 392.48H281.8M279.8 381.99H281.8M279.8 371.49H281.8M279.8 361H281.8M281.8 455.45V457.45M301.19 455.45V457.45M320.58 455.45V457.45M339.97 455.45V457.45M359.36 455.45V457.45M378.75 455.45V457.45"/>
<text class="yl" transform="translate(278,457.15) scale(0.95,1)">0.0</text>
<text class="yl" transform="translate(278,446.66) scale(0.95,1)">0.5</text>
<text class="yl" transform="translate(278,436.16) scale(0.95,1)">1.0</text>
<text class="yl" transform="translate(278,425.67) scale(0.95,1)">1.5</text>
<text class="yl" transform="translate(278,415.17) scale(0.95,1)">2.0</text>
<text class="yl" transform="translate(278,404.68) scale(0.95,1)">2.5</text>
<text class="yl" transform="translate(278,394.18) scale(0.95,1)">3.0</text>
<text class="yl" transform="translate(278,383.69) scale(0.95,1)">3.5</text>
<text class="yl" transform="translate(278,373.19) scale(0.95,1)">4.0</text>
<text class="yl" transform="translate(278,362.7) scale(0.95,1)">4.5</text>
<text class="xl" transform="translate(281.8,462.65) scale(0.95,1)">0</text>
<text class="xl" transform="translate(301.19,462.65) scale(0.95,1)">20</text>
<text class="xl" transform="translate(320.58,462.65) scale(0.95,1)">40</text>
<text class="xl" transform="translate(339.97,462.65) scale(0.95,1)">60</text>
<text class="xl" transform="translate(359.36,462.65) scale(0.95,1)">80</text>
<text class="xl" transform="translate(378.75,462.65) scale(0.95,1)">100</text>
<text class="tt" transform="translate(291.7,382.75) scale(0.955,1)">L18</text>
<text class="tt" transform="translate(291.7,389.75) scale(0.955,1)">RMSE = 0.34</text>
<text class="big" transform="translate(297.5,487.0) scale(0.955,1)" text-anchor="middle">Leaf Chlorophyll Content (LCC)</text>
<text class="big" transform="translate(21.8,212.3) rotate(-90) scale(0.955,1)" text-anchor="middle">Canopy Chlorophyll Content (CCC)</text>
<rect x="123.5" y="514.5" width="280.5" height="31" fill="#fff" stroke="#e0e0e0" stroke-width="1" rx="1"/>
<text class="lt" x="263.8" y="526.3">Stage</text>
<circle cx="135.9" cy="537.2" r="2.2" fill="#FFA000"/>
<text class="li" x="152.4" y="539.6">d38</text>
<circle cx="193.6" cy="537.2" r="2.2" fill="#0FA058"/>
<text class="li" x="210" y="539.6">d57</text>
<circle cx="251" cy="537.2" r="2.2" fill="#990099"/>
<text class="li" x="267.3" y="539.6">d71</text>
<circle cx="308.8" cy="537.2" r="2.2" fill="#D1AE55"/>
<text class="li" x="324.9" y="539.6">d87</text>
<circle cx="365.6" cy="537.2" r="2.2" fill="#FFB3C6"/>
<text class="li" x="382" y="539.6">d100</text>
</svg>
</body></html>
